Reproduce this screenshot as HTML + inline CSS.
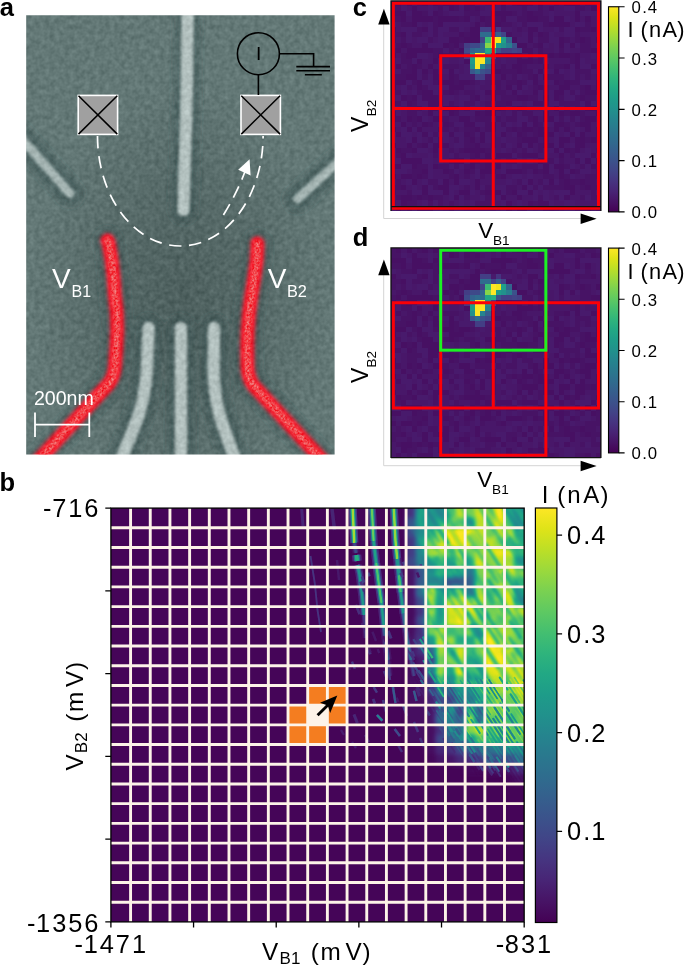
<!DOCTYPE html><html><head><meta charset="utf-8"><title>figure</title><style>html,body{margin:0;padding:0;background:#fff}svg{display:block}</style></head><body>
<svg width="685" height="966" viewBox="0 0 685 966">
<rect width="685" height="966" fill="#fff"/>
<defs>
<filter id="vir" filterUnits="userSpaceOnUse" x="105" y="500" width="425" height="428" color-interpolation-filters="sRGB"><feComponentTransfer><feFuncR type="table" tableValues="0.267 0.273 0.277 0.280 0.282 0.283 0.283 0.281 0.279 0.275 0.271 0.265 0.259 0.252 0.245 0.237 0.230 0.222 0.214 0.207 0.199 0.192 0.186 0.179 0.173 0.167 0.161 0.155 0.149 0.143 0.138 0.132 0.128 0.123 0.121 0.119 0.121 0.125 0.132 0.143 0.158 0.176 0.197 0.220 0.246 0.274 0.304 0.336 0.369 0.404 0.440 0.478 0.516 0.555 0.596 0.637 0.678 0.720 0.762 0.804 0.846 0.886 0.926 0.965 0.993"/><feFuncG type="table" tableValues="0.005 0.026 0.050 0.073 0.095 0.116 0.136 0.156 0.175 0.195 0.214 0.233 0.252 0.270 0.288 0.305 0.322 0.339 0.356 0.372 0.388 0.403 0.419 0.434 0.449 0.464 0.479 0.493 0.508 0.523 0.537 0.552 0.567 0.582 0.596 0.611 0.626 0.640 0.655 0.669 0.684 0.698 0.712 0.726 0.739 0.752 0.765 0.777 0.789 0.800 0.811 0.821 0.831 0.840 0.849 0.857 0.864 0.870 0.876 0.882 0.887 0.892 0.897 0.902 0.906"/><feFuncB type="table" tableValues="0.329 0.353 0.376 0.397 0.417 0.436 0.453 0.469 0.483 0.496 0.507 0.517 0.525 0.532 0.537 0.542 0.546 0.549 0.551 0.553 0.555 0.556 0.557 0.557 0.558 0.558 0.558 0.558 0.557 0.556 0.555 0.553 0.551 0.547 0.544 0.539 0.533 0.527 0.520 0.511 0.502 0.491 0.479 0.466 0.452 0.437 0.420 0.402 0.383 0.363 0.341 0.318 0.294 0.269 0.243 0.217 0.190 0.163 0.137 0.115 0.100 0.095 0.104 0.124 0.144"/></feComponentTransfer></filter>
<filter id="bl3" filterUnits="userSpaceOnUse" x="340" y="480" width="200" height="320" color-interpolation-filters="sRGB"><feGaussianBlur stdDeviation="2.2"/></filter>
<filter id="bl05" filterUnits="userSpaceOnUse" x="280" y="480" width="260" height="320" color-interpolation-filters="sRGB"><feGaussianBlur stdDeviation="0.75"/></filter>
<filter id="bl15" filterUnits="userSpaceOnUse" x="280" y="480" width="260" height="320" color-interpolation-filters="sRGB"><feGaussianBlur stdDeviation="1.5"/></filter>
<filter id="bl1" filterUnits="userSpaceOnUse" x="280" y="480" width="260" height="320" color-interpolation-filters="sRGB"><feGaussianBlur stdDeviation="0.8"/></filter>
<linearGradient id="cbB" x1="0" y1="0" x2="0" y2="1"><stop offset="0" stop-color="#fde725"/><stop offset="0.05" stop-color="#dfe318"/><stop offset="0.1" stop-color="#bddf26"/><stop offset="0.15" stop-color="#9bd93c"/><stop offset="0.2" stop-color="#7ad151"/><stop offset="0.25" stop-color="#5ec962"/><stop offset="0.3" stop-color="#44bf70"/><stop offset="0.35" stop-color="#2fb47c"/><stop offset="0.4" stop-color="#22a884"/><stop offset="0.45" stop-color="#1e9c89"/><stop offset="0.5" stop-color="#21918c"/><stop offset="0.55" stop-color="#25848e"/><stop offset="0.6" stop-color="#2a788e"/><stop offset="0.65" stop-color="#2f6c8e"/><stop offset="0.7" stop-color="#355f8d"/><stop offset="0.75" stop-color="#3b528b"/><stop offset="0.8" stop-color="#414487"/><stop offset="0.85" stop-color="#463480"/><stop offset="0.9" stop-color="#482475"/><stop offset="0.95" stop-color="#471365"/><stop offset="1" stop-color="#440154"/></linearGradient>
<linearGradient id="cbC" x1="0" y1="0" x2="0" y2="1"><stop offset="0" stop-color="#fde725"/><stop offset="0.05" stop-color="#dfe318"/><stop offset="0.1" stop-color="#bddf26"/><stop offset="0.15" stop-color="#9bd93c"/><stop offset="0.2" stop-color="#7ad151"/><stop offset="0.25" stop-color="#5ec962"/><stop offset="0.3" stop-color="#44bf70"/><stop offset="0.35" stop-color="#2fb47c"/><stop offset="0.4" stop-color="#22a884"/><stop offset="0.45" stop-color="#1e9c89"/><stop offset="0.5" stop-color="#21918c"/><stop offset="0.55" stop-color="#25848e"/><stop offset="0.6" stop-color="#2a788e"/><stop offset="0.65" stop-color="#2f6c8e"/><stop offset="0.7" stop-color="#355f8d"/><stop offset="0.75" stop-color="#3b528b"/><stop offset="0.8" stop-color="#414487"/><stop offset="0.85" stop-color="#463480"/><stop offset="0.9" stop-color="#482475"/><stop offset="0.95" stop-color="#471365"/><stop offset="1" stop-color="#440154"/></linearGradient>
</defs>
<defs>
<clipPath id="ca"><rect x="26.2" y="15.3" width="308.4" height="439.2"/></clipPath>
<filter id="na" filterUnits="userSpaceOnUse" x="20" y="10" width="320" height="450" color-interpolation-filters="sRGB"><feTurbulence type="fractalNoise" baseFrequency="0.2" numOctaves="2" seed="4" result="t"/><feColorMatrix in="t" type="matrix" values="1 0 0 0 0  1 0 0 0 0  1 0 0 0 0  0 0 0 0 1" result="g"/><feComposite in="SourceGraphic" in2="g" operator="arithmetic" k1="0" k2="1" k3="0.16" k4="-0.08"/></filter>
<filter id="rn" filterUnits="userSpaceOnUse" x="20" y="230" width="320" height="230" color-interpolation-filters="sRGB"><feTurbulence type="fractalNoise" baseFrequency="0.42" numOctaves="2" seed="9" result="t"/><feColorMatrix in="t" type="matrix" values="0 0 0 0 0.95  1.0 0 0 0 -0.18  0.9 0 0 0 -0.12  0 0 0 0 1" result="g"/><feGaussianBlur in="SourceAlpha" stdDeviation="1.2" result="sa"/><feComposite in="g" in2="sa" operator="in"/></filter>
<radialGradient id="dk" cx="181" cy="300" r="150" gradientUnits="userSpaceOnUse" gradientTransform="translate(181 300) scale(1 1.45) translate(-181 -300)"><stop offset="0" stop-color="#23302f" stop-opacity="0.34"/><stop offset="0.55" stop-color="#23302f" stop-opacity="0.17"/><stop offset="1" stop-color="#23302f" stop-opacity="0"/></radialGradient>
<filter id="ba1" filterUnits="userSpaceOnUse" x="0" y="0" width="360" height="470"><feGaussianBlur stdDeviation="1.6"/></filter>
<filter id="ba3" filterUnits="userSpaceOnUse" x="0" y="0" width="360" height="470"><feGaussianBlur stdDeviation="3.5"/></filter>
<filter id="ba0" filterUnits="userSpaceOnUse" x="0" y="0" width="360" height="470"><feGaussianBlur stdDeviation="1.1"/></filter>
</defs>
<defs>
<g id="hm" shape-rendering="crispEdges">
<rect x="0" y="0" width="210.4" height="210.4" fill="#471365"/>
<path d="M5.26 0h5.31v5.31h-5.31zM15.78 0h5.31v5.31h-5.31zM31.56 0h5.31v5.31h-5.31zM42.08 0h5.31v5.31h-5.31zM52.6 0h5.31v5.31h-5.31zM57.86 0h5.31v5.31h-5.31zM73.64 0h5.31v5.31h-5.31zM78.9 0h5.31v5.31h-5.31zM110.46 0h5.31v5.31h-5.31zM126.24 0h5.31v5.31h-5.31zM131.5 0h5.31v5.31h-5.31zM147.28 0h5.31v5.31h-5.31zM173.58 0h5.31v5.31h-5.31zM178.84 0h5.31v5.31h-5.31zM184.1 0h5.31v5.31h-5.31zM21.04 5.26h5.31v5.31h-5.31zM57.86 5.26h5.31v5.31h-5.31zM73.64 5.26h5.31v5.31h-5.31zM84.16 5.26h5.31v5.31h-5.31zM157.8 5.26h5.31v5.31h-5.31zM199.88 5.26h5.31v5.31h-5.31zM0 10.52h5.31v5.31h-5.31zM5.26 10.52h5.31v5.31h-5.31zM10.52 10.52h5.31v5.31h-5.31zM21.04 10.52h5.31v5.31h-5.31zM26.3 10.52h5.31v5.31h-5.31zM42.08 10.52h5.31v5.31h-5.31zM99.94 10.52h5.31v5.31h-5.31zM105.2 10.52h5.31v5.31h-5.31zM110.46 10.52h5.31v5.31h-5.31zM115.72 10.52h5.31v5.31h-5.31zM136.76 10.52h5.31v5.31h-5.31zM184.1 10.52h5.31v5.31h-5.31zM10.52 15.78h5.31v5.31h-5.31zM21.04 15.78h5.31v5.31h-5.31zM26.3 15.78h5.31v5.31h-5.31zM31.56 15.78h5.31v5.31h-5.31zM36.82 15.78h5.31v5.31h-5.31zM47.34 15.78h5.31v5.31h-5.31zM52.6 15.78h5.31v5.31h-5.31zM57.86 15.78h5.31v5.31h-5.31zM63.12 15.78h5.31v5.31h-5.31zM73.64 15.78h5.31v5.31h-5.31zM89.42 15.78h5.31v5.31h-5.31zM110.46 15.78h5.31v5.31h-5.31zM136.76 15.78h5.31v5.31h-5.31zM142.02 15.78h5.31v5.31h-5.31zM163.06 15.78h5.31v5.31h-5.31zM168.32 15.78h5.31v5.31h-5.31zM184.1 15.78h5.31v5.31h-5.31zM194.62 15.78h5.31v5.31h-5.31zM21.04 21.04h5.31v5.31h-5.31zM47.34 21.04h5.31v5.31h-5.31zM84.16 21.04h5.31v5.31h-5.31zM99.94 21.04h5.31v5.31h-5.31zM105.2 21.04h5.31v5.31h-5.31zM157.8 21.04h5.31v5.31h-5.31zM163.06 21.04h5.31v5.31h-5.31zM168.32 21.04h5.31v5.31h-5.31zM173.58 21.04h5.31v5.31h-5.31zM0 26.3h5.31v5.31h-5.31zM31.56 26.3h5.31v5.31h-5.31zM78.9 26.3h5.31v5.31h-5.31zM84.16 26.3h5.31v5.31h-5.31zM136.76 26.3h5.31v5.31h-5.31zM142.02 26.3h5.31v5.31h-5.31zM184.1 26.3h5.31v5.31h-5.31zM199.88 26.3h5.31v5.31h-5.31zM10.52 31.56h5.31v5.31h-5.31zM68.38 31.56h5.31v5.31h-5.31zM78.9 31.56h5.31v5.31h-5.31zM84.16 31.56h5.31v5.31h-5.31zM136.76 31.56h5.31v5.31h-5.31zM147.28 31.56h5.31v5.31h-5.31zM57.86 36.82h5.31v5.31h-5.31zM63.12 36.82h5.31v5.31h-5.31zM73.64 36.82h5.31v5.31h-5.31zM78.9 36.82h5.31v5.31h-5.31zM84.16 36.82h5.31v5.31h-5.31zM120.98 36.82h5.31v5.31h-5.31zM136.76 36.82h5.31v5.31h-5.31zM168.32 36.82h5.31v5.31h-5.31zM189.36 36.82h5.31v5.31h-5.31zM205.14 36.82h5.31v5.31h-5.31zM10.52 42.08h5.31v5.31h-5.31zM31.56 42.08h5.31v5.31h-5.31zM52.6 42.08h5.31v5.31h-5.31zM63.12 42.08h5.31v5.31h-5.31zM126.24 42.08h5.31v5.31h-5.31zM131.5 42.08h5.31v5.31h-5.31zM147.28 42.08h5.31v5.31h-5.31zM168.32 42.08h5.31v5.31h-5.31zM178.84 42.08h5.31v5.31h-5.31zM5.26 47.34h5.31v5.31h-5.31zM15.78 47.34h5.31v5.31h-5.31zM21.04 47.34h5.31v5.31h-5.31zM26.3 47.34h5.31v5.31h-5.31zM31.56 47.34h5.31v5.31h-5.31zM36.82 47.34h5.31v5.31h-5.31zM68.38 47.34h5.31v5.31h-5.31zM199.88 47.34h5.31v5.31h-5.31zM205.14 47.34h5.31v5.31h-5.31zM0 52.6h5.31v5.31h-5.31zM15.78 52.6h5.31v5.31h-5.31zM21.04 52.6h5.31v5.31h-5.31zM47.34 52.6h5.31v5.31h-5.31zM63.12 52.6h5.31v5.31h-5.31zM115.72 52.6h5.31v5.31h-5.31zM136.76 52.6h5.31v5.31h-5.31zM147.28 52.6h5.31v5.31h-5.31zM157.8 52.6h5.31v5.31h-5.31zM168.32 52.6h5.31v5.31h-5.31zM173.58 52.6h5.31v5.31h-5.31zM184.1 52.6h5.31v5.31h-5.31zM26.3 57.86h5.31v5.31h-5.31zM42.08 57.86h5.31v5.31h-5.31zM73.64 57.86h5.31v5.31h-5.31zM126.24 57.86h5.31v5.31h-5.31zM131.5 57.86h5.31v5.31h-5.31zM136.76 57.86h5.31v5.31h-5.31zM147.28 57.86h5.31v5.31h-5.31zM184.1 57.86h5.31v5.31h-5.31zM5.26 63.12h5.31v5.31h-5.31zM21.04 63.12h5.31v5.31h-5.31zM36.82 63.12h5.31v5.31h-5.31zM120.98 63.12h5.31v5.31h-5.31zM126.24 63.12h5.31v5.31h-5.31zM173.58 63.12h5.31v5.31h-5.31zM184.1 63.12h5.31v5.31h-5.31zM199.88 63.12h5.31v5.31h-5.31zM21.04 68.38h5.31v5.31h-5.31zM31.56 68.38h5.31v5.31h-5.31zM42.08 68.38h5.31v5.31h-5.31zM57.86 68.38h5.31v5.31h-5.31zM99.94 68.38h5.31v5.31h-5.31zM105.2 68.38h5.31v5.31h-5.31zM126.24 68.38h5.31v5.31h-5.31zM147.28 68.38h5.31v5.31h-5.31zM163.06 68.38h5.31v5.31h-5.31zM15.78 73.64h5.31v5.31h-5.31zM21.04 73.64h5.31v5.31h-5.31zM42.08 73.64h5.31v5.31h-5.31zM57.86 73.64h5.31v5.31h-5.31zM110.46 73.64h5.31v5.31h-5.31zM142.02 73.64h5.31v5.31h-5.31zM152.54 73.64h5.31v5.31h-5.31zM0 78.9h5.31v5.31h-5.31zM5.26 78.9h5.31v5.31h-5.31zM10.52 78.9h5.31v5.31h-5.31zM26.3 78.9h5.31v5.31h-5.31zM47.34 78.9h5.31v5.31h-5.31zM52.6 78.9h5.31v5.31h-5.31zM57.86 78.9h5.31v5.31h-5.31zM68.38 78.9h5.31v5.31h-5.31zM73.64 78.9h5.31v5.31h-5.31zM126.24 78.9h5.31v5.31h-5.31zM142.02 78.9h5.31v5.31h-5.31zM163.06 78.9h5.31v5.31h-5.31zM173.58 78.9h5.31v5.31h-5.31zM205.14 78.9h5.31v5.31h-5.31zM0 84.16h5.31v5.31h-5.31zM26.3 84.16h5.31v5.31h-5.31zM57.86 84.16h5.31v5.31h-5.31zM63.12 84.16h5.31v5.31h-5.31zM68.38 84.16h5.31v5.31h-5.31zM115.72 84.16h5.31v5.31h-5.31zM126.24 84.16h5.31v5.31h-5.31zM147.28 84.16h5.31v5.31h-5.31zM168.32 84.16h5.31v5.31h-5.31zM173.58 84.16h5.31v5.31h-5.31zM194.62 84.16h5.31v5.31h-5.31zM205.14 84.16h5.31v5.31h-5.31zM31.56 89.42h5.31v5.31h-5.31zM36.82 89.42h5.31v5.31h-5.31zM57.86 89.42h5.31v5.31h-5.31zM94.68 89.42h5.31v5.31h-5.31zM99.94 89.42h5.31v5.31h-5.31zM120.98 89.42h5.31v5.31h-5.31zM142.02 89.42h5.31v5.31h-5.31zM163.06 89.42h5.31v5.31h-5.31zM168.32 89.42h5.31v5.31h-5.31zM194.62 89.42h5.31v5.31h-5.31zM199.88 89.42h5.31v5.31h-5.31zM10.52 94.68h5.31v5.31h-5.31zM21.04 94.68h5.31v5.31h-5.31zM31.56 94.68h5.31v5.31h-5.31zM36.82 94.68h5.31v5.31h-5.31zM42.08 94.68h5.31v5.31h-5.31zM84.16 94.68h5.31v5.31h-5.31zM99.94 94.68h5.31v5.31h-5.31zM126.24 94.68h5.31v5.31h-5.31zM131.5 94.68h5.31v5.31h-5.31zM152.54 94.68h5.31v5.31h-5.31zM163.06 94.68h5.31v5.31h-5.31zM189.36 94.68h5.31v5.31h-5.31zM0 99.94h5.31v5.31h-5.31zM15.78 99.94h5.31v5.31h-5.31zM36.82 99.94h5.31v5.31h-5.31zM42.08 99.94h5.31v5.31h-5.31zM47.34 99.94h5.31v5.31h-5.31zM115.72 99.94h5.31v5.31h-5.31zM142.02 99.94h5.31v5.31h-5.31zM147.28 99.94h5.31v5.31h-5.31zM194.62 99.94h5.31v5.31h-5.31zM36.82 105.2h5.31v5.31h-5.31zM42.08 105.2h5.31v5.31h-5.31zM52.6 105.2h5.31v5.31h-5.31zM57.86 105.2h5.31v5.31h-5.31zM63.12 105.2h5.31v5.31h-5.31zM99.94 105.2h5.31v5.31h-5.31zM105.2 105.2h5.31v5.31h-5.31zM126.24 105.2h5.31v5.31h-5.31zM163.06 105.2h5.31v5.31h-5.31zM194.62 105.2h5.31v5.31h-5.31zM199.88 105.2h5.31v5.31h-5.31zM205.14 105.2h5.31v5.31h-5.31zM0 110.46h5.31v5.31h-5.31zM36.82 110.46h5.31v5.31h-5.31zM57.86 110.46h5.31v5.31h-5.31zM84.16 110.46h5.31v5.31h-5.31zM94.68 110.46h5.31v5.31h-5.31zM99.94 110.46h5.31v5.31h-5.31zM152.54 110.46h5.31v5.31h-5.31zM168.32 110.46h5.31v5.31h-5.31zM178.84 110.46h5.31v5.31h-5.31zM184.1 110.46h5.31v5.31h-5.31zM205.14 110.46h5.31v5.31h-5.31zM0 115.72h5.31v5.31h-5.31zM15.78 115.72h5.31v5.31h-5.31zM26.3 115.72h5.31v5.31h-5.31zM42.08 115.72h5.31v5.31h-5.31zM47.34 115.72h5.31v5.31h-5.31zM68.38 115.72h5.31v5.31h-5.31zM73.64 115.72h5.31v5.31h-5.31zM142.02 115.72h5.31v5.31h-5.31zM152.54 115.72h5.31v5.31h-5.31zM157.8 115.72h5.31v5.31h-5.31zM194.62 115.72h5.31v5.31h-5.31zM199.88 115.72h5.31v5.31h-5.31zM10.52 120.98h5.31v5.31h-5.31zM31.56 120.98h5.31v5.31h-5.31zM52.6 120.98h5.31v5.31h-5.31zM73.64 120.98h5.31v5.31h-5.31zM78.9 120.98h5.31v5.31h-5.31zM99.94 120.98h5.31v5.31h-5.31zM131.5 120.98h5.31v5.31h-5.31zM142.02 120.98h5.31v5.31h-5.31zM163.06 120.98h5.31v5.31h-5.31zM168.32 120.98h5.31v5.31h-5.31zM189.36 120.98h5.31v5.31h-5.31zM194.62 120.98h5.31v5.31h-5.31zM0 126.24h5.31v5.31h-5.31zM15.78 126.24h5.31v5.31h-5.31zM26.3 126.24h5.31v5.31h-5.31zM84.16 126.24h5.31v5.31h-5.31zM99.94 126.24h5.31v5.31h-5.31zM120.98 126.24h5.31v5.31h-5.31zM131.5 126.24h5.31v5.31h-5.31zM136.76 126.24h5.31v5.31h-5.31zM147.28 126.24h5.31v5.31h-5.31zM163.06 126.24h5.31v5.31h-5.31zM173.58 126.24h5.31v5.31h-5.31zM194.62 126.24h5.31v5.31h-5.31zM5.26 131.5h5.31v5.31h-5.31zM31.56 131.5h5.31v5.31h-5.31zM57.86 131.5h5.31v5.31h-5.31zM73.64 131.5h5.31v5.31h-5.31zM89.42 131.5h5.31v5.31h-5.31zM110.46 131.5h5.31v5.31h-5.31zM126.24 131.5h5.31v5.31h-5.31zM147.28 131.5h5.31v5.31h-5.31zM152.54 131.5h5.31v5.31h-5.31zM157.8 131.5h5.31v5.31h-5.31zM178.84 131.5h5.31v5.31h-5.31zM189.36 131.5h5.31v5.31h-5.31zM21.04 136.76h5.31v5.31h-5.31zM78.9 136.76h5.31v5.31h-5.31zM89.42 136.76h5.31v5.31h-5.31zM131.5 136.76h5.31v5.31h-5.31zM136.76 136.76h5.31v5.31h-5.31zM142.02 136.76h5.31v5.31h-5.31zM168.32 136.76h5.31v5.31h-5.31zM173.58 136.76h5.31v5.31h-5.31zM184.1 136.76h5.31v5.31h-5.31zM189.36 136.76h5.31v5.31h-5.31zM199.88 136.76h5.31v5.31h-5.31zM0 142.02h5.31v5.31h-5.31zM15.78 142.02h5.31v5.31h-5.31zM31.56 142.02h5.31v5.31h-5.31zM42.08 142.02h5.31v5.31h-5.31zM47.34 142.02h5.31v5.31h-5.31zM52.6 142.02h5.31v5.31h-5.31zM84.16 142.02h5.31v5.31h-5.31zM126.24 142.02h5.31v5.31h-5.31zM136.76 142.02h5.31v5.31h-5.31zM152.54 142.02h5.31v5.31h-5.31zM157.8 142.02h5.31v5.31h-5.31zM168.32 142.02h5.31v5.31h-5.31zM184.1 142.02h5.31v5.31h-5.31zM189.36 142.02h5.31v5.31h-5.31zM5.26 147.28h5.31v5.31h-5.31zM21.04 147.28h5.31v5.31h-5.31zM42.08 147.28h5.31v5.31h-5.31zM73.64 147.28h5.31v5.31h-5.31zM78.9 147.28h5.31v5.31h-5.31zM84.16 147.28h5.31v5.31h-5.31zM89.42 147.28h5.31v5.31h-5.31zM163.06 147.28h5.31v5.31h-5.31zM173.58 147.28h5.31v5.31h-5.31zM184.1 147.28h5.31v5.31h-5.31zM10.52 152.54h5.31v5.31h-5.31zM84.16 152.54h5.31v5.31h-5.31zM94.68 152.54h5.31v5.31h-5.31zM105.2 152.54h5.31v5.31h-5.31zM110.46 152.54h5.31v5.31h-5.31zM115.72 152.54h5.31v5.31h-5.31zM131.5 152.54h5.31v5.31h-5.31zM136.76 152.54h5.31v5.31h-5.31zM142.02 152.54h5.31v5.31h-5.31zM168.32 152.54h5.31v5.31h-5.31zM199.88 152.54h5.31v5.31h-5.31zM10.52 157.8h5.31v5.31h-5.31zM15.78 157.8h5.31v5.31h-5.31zM21.04 157.8h5.31v5.31h-5.31zM26.3 157.8h5.31v5.31h-5.31zM63.12 157.8h5.31v5.31h-5.31zM68.38 157.8h5.31v5.31h-5.31zM78.9 157.8h5.31v5.31h-5.31zM94.68 157.8h5.31v5.31h-5.31zM147.28 157.8h5.31v5.31h-5.31zM184.1 157.8h5.31v5.31h-5.31zM194.62 157.8h5.31v5.31h-5.31zM205.14 157.8h5.31v5.31h-5.31zM0 163.06h5.31v5.31h-5.31zM5.26 163.06h5.31v5.31h-5.31zM21.04 163.06h5.31v5.31h-5.31zM42.08 163.06h5.31v5.31h-5.31zM78.9 163.06h5.31v5.31h-5.31zM94.68 163.06h5.31v5.31h-5.31zM105.2 163.06h5.31v5.31h-5.31zM152.54 163.06h5.31v5.31h-5.31zM163.06 163.06h5.31v5.31h-5.31zM168.32 163.06h5.31v5.31h-5.31zM199.88 163.06h5.31v5.31h-5.31zM31.56 168.32h5.31v5.31h-5.31zM52.6 168.32h5.31v5.31h-5.31zM73.64 168.32h5.31v5.31h-5.31zM89.42 168.32h5.31v5.31h-5.31zM94.68 168.32h5.31v5.31h-5.31zM115.72 168.32h5.31v5.31h-5.31zM120.98 168.32h5.31v5.31h-5.31zM126.24 168.32h5.31v5.31h-5.31zM142.02 168.32h5.31v5.31h-5.31zM152.54 168.32h5.31v5.31h-5.31zM168.32 168.32h5.31v5.31h-5.31zM178.84 168.32h5.31v5.31h-5.31zM0 173.58h5.31v5.31h-5.31zM10.52 173.58h5.31v5.31h-5.31zM15.78 173.58h5.31v5.31h-5.31zM26.3 173.58h5.31v5.31h-5.31zM63.12 173.58h5.31v5.31h-5.31zM110.46 173.58h5.31v5.31h-5.31zM168.32 173.58h5.31v5.31h-5.31zM21.04 178.84h5.31v5.31h-5.31zM52.6 178.84h5.31v5.31h-5.31zM63.12 178.84h5.31v5.31h-5.31zM84.16 178.84h5.31v5.31h-5.31zM136.76 178.84h5.31v5.31h-5.31zM157.8 178.84h5.31v5.31h-5.31zM173.58 178.84h5.31v5.31h-5.31zM189.36 178.84h5.31v5.31h-5.31zM10.52 184.1h5.31v5.31h-5.31zM31.56 184.1h5.31v5.31h-5.31zM47.34 184.1h5.31v5.31h-5.31zM52.6 184.1h5.31v5.31h-5.31zM84.16 184.1h5.31v5.31h-5.31zM131.5 184.1h5.31v5.31h-5.31zM173.58 184.1h5.31v5.31h-5.31zM178.84 184.1h5.31v5.31h-5.31zM194.62 184.1h5.31v5.31h-5.31zM31.56 189.36h5.31v5.31h-5.31zM52.6 189.36h5.31v5.31h-5.31zM68.38 189.36h5.31v5.31h-5.31zM73.64 189.36h5.31v5.31h-5.31zM94.68 189.36h5.31v5.31h-5.31zM99.94 189.36h5.31v5.31h-5.31zM105.2 189.36h5.31v5.31h-5.31zM120.98 189.36h5.31v5.31h-5.31zM136.76 189.36h5.31v5.31h-5.31zM178.84 189.36h5.31v5.31h-5.31zM10.52 194.62h5.31v5.31h-5.31zM15.78 194.62h5.31v5.31h-5.31zM26.3 194.62h5.31v5.31h-5.31zM36.82 194.62h5.31v5.31h-5.31zM63.12 194.62h5.31v5.31h-5.31zM110.46 194.62h5.31v5.31h-5.31zM126.24 194.62h5.31v5.31h-5.31zM173.58 194.62h5.31v5.31h-5.31zM10.52 199.88h5.31v5.31h-5.31zM115.72 199.88h5.31v5.31h-5.31zM136.76 199.88h5.31v5.31h-5.31zM147.28 199.88h5.31v5.31h-5.31zM152.54 199.88h5.31v5.31h-5.31zM5.26 205.14h5.31v5.31h-5.31zM26.3 205.14h5.31v5.31h-5.31zM31.56 205.14h5.31v5.31h-5.31zM36.82 205.14h5.31v5.31h-5.31zM115.72 205.14h5.31v5.31h-5.31zM126.24 205.14h5.31v5.31h-5.31zM131.5 205.14h5.31v5.31h-5.31zM157.8 205.14h5.31v5.31h-5.31zM194.62 205.14h5.31v5.31h-5.31zM205.14 205.14h5.31v5.31h-5.31z" fill="#471063"/>
<path d="M10.52 0h5.31v5.31h-5.31zM21.04 0h5.31v5.31h-5.31zM36.82 0h5.31v5.31h-5.31zM84.16 0h5.31v5.31h-5.31zM94.68 0h5.31v5.31h-5.31zM152.54 0h5.31v5.31h-5.31zM157.8 0h5.31v5.31h-5.31zM168.32 0h5.31v5.31h-5.31zM189.36 0h5.31v5.31h-5.31zM205.14 0h5.31v5.31h-5.31zM15.78 5.26h5.31v5.31h-5.31zM26.3 5.26h5.31v5.31h-5.31zM31.56 5.26h5.31v5.31h-5.31zM42.08 5.26h5.31v5.31h-5.31zM89.42 5.26h5.31v5.31h-5.31zM99.94 5.26h5.31v5.31h-5.31zM115.72 5.26h5.31v5.31h-5.31zM120.98 5.26h5.31v5.31h-5.31zM126.24 5.26h5.31v5.31h-5.31zM152.54 5.26h5.31v5.31h-5.31zM163.06 5.26h5.31v5.31h-5.31zM168.32 5.26h5.31v5.31h-5.31zM194.62 5.26h5.31v5.31h-5.31zM52.6 10.52h5.31v5.31h-5.31zM126.24 10.52h5.31v5.31h-5.31zM152.54 10.52h5.31v5.31h-5.31zM163.06 10.52h5.31v5.31h-5.31zM168.32 10.52h5.31v5.31h-5.31zM173.58 10.52h5.31v5.31h-5.31zM178.84 10.52h5.31v5.31h-5.31zM15.78 15.78h5.31v5.31h-5.31zM84.16 15.78h5.31v5.31h-5.31zM178.84 15.78h5.31v5.31h-5.31zM189.36 15.78h5.31v5.31h-5.31zM199.88 15.78h5.31v5.31h-5.31zM5.26 21.04h5.31v5.31h-5.31zM31.56 21.04h5.31v5.31h-5.31zM78.9 21.04h5.31v5.31h-5.31zM89.42 21.04h5.31v5.31h-5.31zM120.98 21.04h5.31v5.31h-5.31zM178.84 21.04h5.31v5.31h-5.31zM199.88 21.04h5.31v5.31h-5.31zM5.26 26.3h5.31v5.31h-5.31zM73.64 26.3h5.31v5.31h-5.31zM120.98 26.3h5.31v5.31h-5.31zM131.5 26.3h5.31v5.31h-5.31zM152.54 26.3h5.31v5.31h-5.31zM157.8 26.3h5.31v5.31h-5.31zM205.14 26.3h5.31v5.31h-5.31zM31.56 31.56h5.31v5.31h-5.31zM52.6 31.56h5.31v5.31h-5.31zM57.86 31.56h5.31v5.31h-5.31zM63.12 31.56h5.31v5.31h-5.31zM120.98 31.56h5.31v5.31h-5.31zM126.24 31.56h5.31v5.31h-5.31zM142.02 31.56h5.31v5.31h-5.31zM163.06 31.56h5.31v5.31h-5.31zM168.32 31.56h5.31v5.31h-5.31zM189.36 31.56h5.31v5.31h-5.31zM194.62 31.56h5.31v5.31h-5.31zM199.88 31.56h5.31v5.31h-5.31zM205.14 31.56h5.31v5.31h-5.31zM5.26 36.82h5.31v5.31h-5.31zM21.04 36.82h5.31v5.31h-5.31zM42.08 36.82h5.31v5.31h-5.31zM178.84 36.82h5.31v5.31h-5.31zM199.88 36.82h5.31v5.31h-5.31zM0 42.08h5.31v5.31h-5.31zM21.04 42.08h5.31v5.31h-5.31zM26.3 42.08h5.31v5.31h-5.31zM136.76 42.08h5.31v5.31h-5.31zM157.8 42.08h5.31v5.31h-5.31zM199.88 42.08h5.31v5.31h-5.31zM10.52 47.34h5.31v5.31h-5.31zM63.12 47.34h5.31v5.31h-5.31zM152.54 47.34h5.31v5.31h-5.31zM157.8 47.34h5.31v5.31h-5.31zM178.84 47.34h5.31v5.31h-5.31zM184.1 47.34h5.31v5.31h-5.31zM5.26 52.6h5.31v5.31h-5.31zM36.82 52.6h5.31v5.31h-5.31zM131.5 52.6h5.31v5.31h-5.31zM142.02 52.6h5.31v5.31h-5.31zM189.36 52.6h5.31v5.31h-5.31zM194.62 52.6h5.31v5.31h-5.31zM205.14 52.6h5.31v5.31h-5.31zM0 57.86h5.31v5.31h-5.31zM31.56 57.86h5.31v5.31h-5.31zM36.82 57.86h5.31v5.31h-5.31zM57.86 57.86h5.31v5.31h-5.31zM63.12 57.86h5.31v5.31h-5.31zM105.2 57.86h5.31v5.31h-5.31zM115.72 57.86h5.31v5.31h-5.31zM120.98 57.86h5.31v5.31h-5.31zM157.8 57.86h5.31v5.31h-5.31zM163.06 57.86h5.31v5.31h-5.31zM168.32 57.86h5.31v5.31h-5.31zM173.58 57.86h5.31v5.31h-5.31zM194.62 57.86h5.31v5.31h-5.31zM199.88 57.86h5.31v5.31h-5.31zM205.14 57.86h5.31v5.31h-5.31zM0 63.12h5.31v5.31h-5.31zM10.52 63.12h5.31v5.31h-5.31zM31.56 63.12h5.31v5.31h-5.31zM42.08 63.12h5.31v5.31h-5.31zM68.38 63.12h5.31v5.31h-5.31zM105.2 63.12h5.31v5.31h-5.31zM115.72 63.12h5.31v5.31h-5.31zM136.76 63.12h5.31v5.31h-5.31zM142.02 63.12h5.31v5.31h-5.31zM147.28 63.12h5.31v5.31h-5.31zM157.8 63.12h5.31v5.31h-5.31zM36.82 68.38h5.31v5.31h-5.31zM47.34 68.38h5.31v5.31h-5.31zM68.38 68.38h5.31v5.31h-5.31zM173.58 68.38h5.31v5.31h-5.31zM205.14 68.38h5.31v5.31h-5.31zM52.6 73.64h5.31v5.31h-5.31zM99.94 73.64h5.31v5.31h-5.31zM105.2 73.64h5.31v5.31h-5.31zM115.72 73.64h5.31v5.31h-5.31zM131.5 73.64h5.31v5.31h-5.31zM173.58 73.64h5.31v5.31h-5.31zM189.36 73.64h5.31v5.31h-5.31zM199.88 73.64h5.31v5.31h-5.31zM84.16 78.9h5.31v5.31h-5.31zM94.68 78.9h5.31v5.31h-5.31zM110.46 78.9h5.31v5.31h-5.31zM147.28 78.9h5.31v5.31h-5.31zM152.54 78.9h5.31v5.31h-5.31zM5.26 84.16h5.31v5.31h-5.31zM21.04 84.16h5.31v5.31h-5.31zM73.64 84.16h5.31v5.31h-5.31zM78.9 84.16h5.31v5.31h-5.31zM89.42 84.16h5.31v5.31h-5.31zM94.68 84.16h5.31v5.31h-5.31zM110.46 84.16h5.31v5.31h-5.31zM136.76 84.16h5.31v5.31h-5.31zM157.8 84.16h5.31v5.31h-5.31zM163.06 84.16h5.31v5.31h-5.31zM178.84 84.16h5.31v5.31h-5.31zM184.1 84.16h5.31v5.31h-5.31zM199.88 84.16h5.31v5.31h-5.31zM15.78 89.42h5.31v5.31h-5.31zM47.34 89.42h5.31v5.31h-5.31zM68.38 89.42h5.31v5.31h-5.31zM84.16 89.42h5.31v5.31h-5.31zM115.72 89.42h5.31v5.31h-5.31zM131.5 89.42h5.31v5.31h-5.31zM136.76 89.42h5.31v5.31h-5.31zM0 94.68h5.31v5.31h-5.31zM63.12 94.68h5.31v5.31h-5.31zM94.68 94.68h5.31v5.31h-5.31zM105.2 94.68h5.31v5.31h-5.31zM63.12 99.94h5.31v5.31h-5.31zM89.42 99.94h5.31v5.31h-5.31zM99.94 99.94h5.31v5.31h-5.31zM131.5 99.94h5.31v5.31h-5.31zM205.14 99.94h5.31v5.31h-5.31zM10.52 105.2h5.31v5.31h-5.31zM68.38 105.2h5.31v5.31h-5.31zM115.72 105.2h5.31v5.31h-5.31zM136.76 105.2h5.31v5.31h-5.31zM142.02 105.2h5.31v5.31h-5.31zM147.28 105.2h5.31v5.31h-5.31zM157.8 105.2h5.31v5.31h-5.31zM178.84 105.2h5.31v5.31h-5.31zM189.36 105.2h5.31v5.31h-5.31zM10.52 110.46h5.31v5.31h-5.31zM31.56 110.46h5.31v5.31h-5.31zM47.34 110.46h5.31v5.31h-5.31zM110.46 110.46h5.31v5.31h-5.31zM157.8 110.46h5.31v5.31h-5.31zM163.06 110.46h5.31v5.31h-5.31zM194.62 110.46h5.31v5.31h-5.31zM199.88 110.46h5.31v5.31h-5.31zM10.52 115.72h5.31v5.31h-5.31zM36.82 115.72h5.31v5.31h-5.31zM57.86 115.72h5.31v5.31h-5.31zM63.12 115.72h5.31v5.31h-5.31zM78.9 115.72h5.31v5.31h-5.31zM110.46 115.72h5.31v5.31h-5.31zM147.28 115.72h5.31v5.31h-5.31zM205.14 115.72h5.31v5.31h-5.31zM0 120.98h5.31v5.31h-5.31zM15.78 120.98h5.31v5.31h-5.31zM26.3 120.98h5.31v5.31h-5.31zM42.08 120.98h5.31v5.31h-5.31zM120.98 120.98h5.31v5.31h-5.31zM178.84 120.98h5.31v5.31h-5.31zM199.88 120.98h5.31v5.31h-5.31zM5.26 126.24h5.31v5.31h-5.31zM31.56 126.24h5.31v5.31h-5.31zM36.82 126.24h5.31v5.31h-5.31zM42.08 126.24h5.31v5.31h-5.31zM57.86 126.24h5.31v5.31h-5.31zM68.38 126.24h5.31v5.31h-5.31zM89.42 126.24h5.31v5.31h-5.31zM157.8 126.24h5.31v5.31h-5.31zM168.32 126.24h5.31v5.31h-5.31zM178.84 126.24h5.31v5.31h-5.31zM189.36 126.24h5.31v5.31h-5.31zM199.88 126.24h5.31v5.31h-5.31zM21.04 131.5h5.31v5.31h-5.31zM115.72 131.5h5.31v5.31h-5.31zM136.76 131.5h5.31v5.31h-5.31zM168.32 131.5h5.31v5.31h-5.31zM194.62 131.5h5.31v5.31h-5.31zM199.88 131.5h5.31v5.31h-5.31zM5.26 136.76h5.31v5.31h-5.31zM10.52 136.76h5.31v5.31h-5.31zM31.56 136.76h5.31v5.31h-5.31zM57.86 136.76h5.31v5.31h-5.31zM84.16 136.76h5.31v5.31h-5.31zM105.2 136.76h5.31v5.31h-5.31zM115.72 136.76h5.31v5.31h-5.31zM120.98 136.76h5.31v5.31h-5.31zM147.28 136.76h5.31v5.31h-5.31zM157.8 136.76h5.31v5.31h-5.31zM178.84 136.76h5.31v5.31h-5.31zM5.26 142.02h5.31v5.31h-5.31zM10.52 142.02h5.31v5.31h-5.31zM21.04 142.02h5.31v5.31h-5.31zM57.86 142.02h5.31v5.31h-5.31zM89.42 142.02h5.31v5.31h-5.31zM94.68 142.02h5.31v5.31h-5.31zM105.2 142.02h5.31v5.31h-5.31zM120.98 142.02h5.31v5.31h-5.31zM142.02 142.02h5.31v5.31h-5.31zM173.58 142.02h5.31v5.31h-5.31zM194.62 142.02h5.31v5.31h-5.31zM199.88 142.02h5.31v5.31h-5.31zM205.14 142.02h5.31v5.31h-5.31zM36.82 147.28h5.31v5.31h-5.31zM52.6 147.28h5.31v5.31h-5.31zM63.12 147.28h5.31v5.31h-5.31zM99.94 147.28h5.31v5.31h-5.31zM105.2 147.28h5.31v5.31h-5.31zM115.72 147.28h5.31v5.31h-5.31zM126.24 147.28h5.31v5.31h-5.31zM142.02 147.28h5.31v5.31h-5.31zM152.54 147.28h5.31v5.31h-5.31zM189.36 147.28h5.31v5.31h-5.31zM199.88 147.28h5.31v5.31h-5.31zM21.04 152.54h5.31v5.31h-5.31zM26.3 152.54h5.31v5.31h-5.31zM31.56 152.54h5.31v5.31h-5.31zM52.6 152.54h5.31v5.31h-5.31zM68.38 152.54h5.31v5.31h-5.31zM73.64 152.54h5.31v5.31h-5.31zM89.42 152.54h5.31v5.31h-5.31zM147.28 152.54h5.31v5.31h-5.31zM152.54 152.54h5.31v5.31h-5.31zM157.8 152.54h5.31v5.31h-5.31zM163.06 152.54h5.31v5.31h-5.31zM173.58 152.54h5.31v5.31h-5.31zM42.08 157.8h5.31v5.31h-5.31zM52.6 157.8h5.31v5.31h-5.31zM110.46 157.8h5.31v5.31h-5.31zM131.5 157.8h5.31v5.31h-5.31zM142.02 157.8h5.31v5.31h-5.31zM173.58 157.8h5.31v5.31h-5.31zM178.84 157.8h5.31v5.31h-5.31zM84.16 163.06h5.31v5.31h-5.31zM99.94 163.06h5.31v5.31h-5.31zM115.72 163.06h5.31v5.31h-5.31zM126.24 163.06h5.31v5.31h-5.31zM184.1 163.06h5.31v5.31h-5.31zM0 168.32h5.31v5.31h-5.31zM15.78 168.32h5.31v5.31h-5.31zM42.08 168.32h5.31v5.31h-5.31zM47.34 168.32h5.31v5.31h-5.31zM68.38 168.32h5.31v5.31h-5.31zM105.2 168.32h5.31v5.31h-5.31zM136.76 168.32h5.31v5.31h-5.31zM163.06 168.32h5.31v5.31h-5.31zM199.88 168.32h5.31v5.31h-5.31zM5.26 173.58h5.31v5.31h-5.31zM42.08 173.58h5.31v5.31h-5.31zM47.34 173.58h5.31v5.31h-5.31zM52.6 173.58h5.31v5.31h-5.31zM68.38 173.58h5.31v5.31h-5.31zM78.9 173.58h5.31v5.31h-5.31zM94.68 173.58h5.31v5.31h-5.31zM99.94 173.58h5.31v5.31h-5.31zM115.72 173.58h5.31v5.31h-5.31zM131.5 173.58h5.31v5.31h-5.31zM142.02 173.58h5.31v5.31h-5.31zM147.28 173.58h5.31v5.31h-5.31zM163.06 173.58h5.31v5.31h-5.31zM184.1 173.58h5.31v5.31h-5.31zM189.36 173.58h5.31v5.31h-5.31zM0 178.84h5.31v5.31h-5.31zM10.52 178.84h5.31v5.31h-5.31zM26.3 178.84h5.31v5.31h-5.31zM57.86 178.84h5.31v5.31h-5.31zM78.9 178.84h5.31v5.31h-5.31zM89.42 178.84h5.31v5.31h-5.31zM94.68 178.84h5.31v5.31h-5.31zM99.94 178.84h5.31v5.31h-5.31zM105.2 178.84h5.31v5.31h-5.31zM110.46 178.84h5.31v5.31h-5.31zM120.98 178.84h5.31v5.31h-5.31zM142.02 178.84h5.31v5.31h-5.31zM205.14 178.84h5.31v5.31h-5.31zM15.78 184.1h5.31v5.31h-5.31zM26.3 184.1h5.31v5.31h-5.31zM68.38 184.1h5.31v5.31h-5.31zM78.9 184.1h5.31v5.31h-5.31zM99.94 184.1h5.31v5.31h-5.31zM126.24 184.1h5.31v5.31h-5.31zM184.1 184.1h5.31v5.31h-5.31zM5.26 189.36h5.31v5.31h-5.31zM10.52 189.36h5.31v5.31h-5.31zM63.12 189.36h5.31v5.31h-5.31zM84.16 189.36h5.31v5.31h-5.31zM147.28 189.36h5.31v5.31h-5.31zM157.8 189.36h5.31v5.31h-5.31zM184.1 189.36h5.31v5.31h-5.31zM189.36 189.36h5.31v5.31h-5.31zM194.62 189.36h5.31v5.31h-5.31zM0 194.62h5.31v5.31h-5.31zM52.6 194.62h5.31v5.31h-5.31zM78.9 194.62h5.31v5.31h-5.31zM84.16 194.62h5.31v5.31h-5.31zM115.72 194.62h5.31v5.31h-5.31zM120.98 194.62h5.31v5.31h-5.31zM131.5 194.62h5.31v5.31h-5.31zM136.76 194.62h5.31v5.31h-5.31zM157.8 194.62h5.31v5.31h-5.31zM178.84 194.62h5.31v5.31h-5.31zM184.1 194.62h5.31v5.31h-5.31zM0 199.88h5.31v5.31h-5.31zM26.3 199.88h5.31v5.31h-5.31zM52.6 199.88h5.31v5.31h-5.31zM63.12 199.88h5.31v5.31h-5.31zM73.64 199.88h5.31v5.31h-5.31zM99.94 199.88h5.31v5.31h-5.31zM105.2 199.88h5.31v5.31h-5.31zM120.98 199.88h5.31v5.31h-5.31zM131.5 199.88h5.31v5.31h-5.31zM163.06 199.88h5.31v5.31h-5.31zM168.32 199.88h5.31v5.31h-5.31zM184.1 199.88h5.31v5.31h-5.31zM189.36 199.88h5.31v5.31h-5.31zM194.62 199.88h5.31v5.31h-5.31zM199.88 199.88h5.31v5.31h-5.31zM205.14 199.88h5.31v5.31h-5.31zM0 205.14h5.31v5.31h-5.31zM10.52 205.14h5.31v5.31h-5.31zM52.6 205.14h5.31v5.31h-5.31zM73.64 205.14h5.31v5.31h-5.31zM105.2 205.14h5.31v5.31h-5.31zM120.98 205.14h5.31v5.31h-5.31zM142.02 205.14h5.31v5.31h-5.31zM168.32 205.14h5.31v5.31h-5.31zM199.88 205.14h5.31v5.31h-5.31z" fill="#481769"/>
<path d="M68.38 0h5.31v5.31h-5.31zM89.42 0h5.31v5.31h-5.31zM105.2 0h5.31v5.31h-5.31zM115.72 0h5.31v5.31h-5.31zM142.02 0h5.31v5.31h-5.31zM10.52 5.26h5.31v5.31h-5.31zM36.82 5.26h5.31v5.31h-5.31zM52.6 5.26h5.31v5.31h-5.31zM68.38 5.26h5.31v5.31h-5.31zM94.68 5.26h5.31v5.31h-5.31zM105.2 5.26h5.31v5.31h-5.31zM136.76 5.26h5.31v5.31h-5.31zM142.02 5.26h5.31v5.31h-5.31zM173.58 5.26h5.31v5.31h-5.31zM178.84 5.26h5.31v5.31h-5.31zM15.78 10.52h5.31v5.31h-5.31zM36.82 10.52h5.31v5.31h-5.31zM57.86 10.52h5.31v5.31h-5.31zM63.12 10.52h5.31v5.31h-5.31zM68.38 10.52h5.31v5.31h-5.31zM89.42 10.52h5.31v5.31h-5.31zM94.68 10.52h5.31v5.31h-5.31zM157.8 10.52h5.31v5.31h-5.31zM189.36 10.52h5.31v5.31h-5.31zM194.62 10.52h5.31v5.31h-5.31zM199.88 10.52h5.31v5.31h-5.31zM205.14 10.52h5.31v5.31h-5.31zM78.9 15.78h5.31v5.31h-5.31zM115.72 15.78h5.31v5.31h-5.31zM120.98 15.78h5.31v5.31h-5.31zM157.8 15.78h5.31v5.31h-5.31zM173.58 15.78h5.31v5.31h-5.31zM205.14 15.78h5.31v5.31h-5.31zM0 21.04h5.31v5.31h-5.31zM26.3 21.04h5.31v5.31h-5.31zM36.82 21.04h5.31v5.31h-5.31zM52.6 21.04h5.31v5.31h-5.31zM57.86 21.04h5.31v5.31h-5.31zM63.12 21.04h5.31v5.31h-5.31zM68.38 21.04h5.31v5.31h-5.31zM73.64 21.04h5.31v5.31h-5.31zM126.24 21.04h5.31v5.31h-5.31zM136.76 21.04h5.31v5.31h-5.31zM142.02 21.04h5.31v5.31h-5.31zM147.28 21.04h5.31v5.31h-5.31zM184.1 21.04h5.31v5.31h-5.31zM189.36 21.04h5.31v5.31h-5.31zM205.14 21.04h5.31v5.31h-5.31zM10.52 26.3h5.31v5.31h-5.31zM15.78 26.3h5.31v5.31h-5.31zM21.04 26.3h5.31v5.31h-5.31zM36.82 26.3h5.31v5.31h-5.31zM47.34 26.3h5.31v5.31h-5.31zM52.6 26.3h5.31v5.31h-5.31zM68.38 26.3h5.31v5.31h-5.31zM99.94 26.3h5.31v5.31h-5.31zM110.46 26.3h5.31v5.31h-5.31zM115.72 26.3h5.31v5.31h-5.31zM147.28 26.3h5.31v5.31h-5.31zM163.06 26.3h5.31v5.31h-5.31zM173.58 26.3h5.31v5.31h-5.31zM178.84 26.3h5.31v5.31h-5.31zM15.78 31.56h5.31v5.31h-5.31zM36.82 31.56h5.31v5.31h-5.31zM47.34 31.56h5.31v5.31h-5.31zM131.5 31.56h5.31v5.31h-5.31zM157.8 31.56h5.31v5.31h-5.31zM173.58 31.56h5.31v5.31h-5.31zM178.84 31.56h5.31v5.31h-5.31zM15.78 36.82h5.31v5.31h-5.31zM26.3 36.82h5.31v5.31h-5.31zM31.56 36.82h5.31v5.31h-5.31zM47.34 36.82h5.31v5.31h-5.31zM52.6 36.82h5.31v5.31h-5.31zM126.24 36.82h5.31v5.31h-5.31zM131.5 36.82h5.31v5.31h-5.31zM142.02 36.82h5.31v5.31h-5.31zM157.8 36.82h5.31v5.31h-5.31zM163.06 36.82h5.31v5.31h-5.31zM36.82 42.08h5.31v5.31h-5.31zM42.08 42.08h5.31v5.31h-5.31zM47.34 42.08h5.31v5.31h-5.31zM68.38 42.08h5.31v5.31h-5.31zM152.54 42.08h5.31v5.31h-5.31zM163.06 42.08h5.31v5.31h-5.31zM173.58 42.08h5.31v5.31h-5.31zM184.1 42.08h5.31v5.31h-5.31zM205.14 42.08h5.31v5.31h-5.31zM52.6 47.34h5.31v5.31h-5.31zM142.02 47.34h5.31v5.31h-5.31zM163.06 47.34h5.31v5.31h-5.31zM173.58 47.34h5.31v5.31h-5.31zM26.3 52.6h5.31v5.31h-5.31zM31.56 52.6h5.31v5.31h-5.31zM199.88 52.6h5.31v5.31h-5.31zM5.26 57.86h5.31v5.31h-5.31zM21.04 57.86h5.31v5.31h-5.31zM47.34 57.86h5.31v5.31h-5.31zM52.6 57.86h5.31v5.31h-5.31zM68.38 57.86h5.31v5.31h-5.31zM99.94 57.86h5.31v5.31h-5.31zM110.46 57.86h5.31v5.31h-5.31zM152.54 57.86h5.31v5.31h-5.31zM189.36 57.86h5.31v5.31h-5.31zM47.34 63.12h5.31v5.31h-5.31zM73.64 63.12h5.31v5.31h-5.31zM178.84 63.12h5.31v5.31h-5.31zM189.36 63.12h5.31v5.31h-5.31zM194.62 63.12h5.31v5.31h-5.31zM0 68.38h5.31v5.31h-5.31zM5.26 68.38h5.31v5.31h-5.31zM26.3 68.38h5.31v5.31h-5.31zM52.6 68.38h5.31v5.31h-5.31zM63.12 68.38h5.31v5.31h-5.31zM73.64 68.38h5.31v5.31h-5.31zM142.02 68.38h5.31v5.31h-5.31zM152.54 68.38h5.31v5.31h-5.31zM157.8 68.38h5.31v5.31h-5.31zM168.32 68.38h5.31v5.31h-5.31zM178.84 68.38h5.31v5.31h-5.31zM199.88 68.38h5.31v5.31h-5.31zM26.3 73.64h5.31v5.31h-5.31zM36.82 73.64h5.31v5.31h-5.31zM68.38 73.64h5.31v5.31h-5.31zM73.64 73.64h5.31v5.31h-5.31zM78.9 73.64h5.31v5.31h-5.31zM94.68 73.64h5.31v5.31h-5.31zM126.24 73.64h5.31v5.31h-5.31zM147.28 73.64h5.31v5.31h-5.31zM178.84 73.64h5.31v5.31h-5.31zM15.78 78.9h5.31v5.31h-5.31zM31.56 78.9h5.31v5.31h-5.31zM36.82 78.9h5.31v5.31h-5.31zM89.42 78.9h5.31v5.31h-5.31zM136.76 78.9h5.31v5.31h-5.31zM157.8 78.9h5.31v5.31h-5.31zM189.36 78.9h5.31v5.31h-5.31zM194.62 78.9h5.31v5.31h-5.31zM199.88 78.9h5.31v5.31h-5.31zM10.52 84.16h5.31v5.31h-5.31zM36.82 84.16h5.31v5.31h-5.31zM42.08 84.16h5.31v5.31h-5.31zM47.34 84.16h5.31v5.31h-5.31zM52.6 84.16h5.31v5.31h-5.31zM84.16 84.16h5.31v5.31h-5.31zM99.94 84.16h5.31v5.31h-5.31zM120.98 84.16h5.31v5.31h-5.31zM131.5 84.16h5.31v5.31h-5.31zM10.52 89.42h5.31v5.31h-5.31zM21.04 89.42h5.31v5.31h-5.31zM42.08 89.42h5.31v5.31h-5.31zM89.42 89.42h5.31v5.31h-5.31zM126.24 89.42h5.31v5.31h-5.31zM147.28 89.42h5.31v5.31h-5.31zM157.8 89.42h5.31v5.31h-5.31zM173.58 89.42h5.31v5.31h-5.31zM184.1 89.42h5.31v5.31h-5.31zM5.26 94.68h5.31v5.31h-5.31zM26.3 94.68h5.31v5.31h-5.31zM52.6 94.68h5.31v5.31h-5.31zM57.86 94.68h5.31v5.31h-5.31zM68.38 94.68h5.31v5.31h-5.31zM73.64 94.68h5.31v5.31h-5.31zM89.42 94.68h5.31v5.31h-5.31zM147.28 94.68h5.31v5.31h-5.31zM157.8 94.68h5.31v5.31h-5.31zM173.58 94.68h5.31v5.31h-5.31zM178.84 94.68h5.31v5.31h-5.31zM205.14 94.68h5.31v5.31h-5.31zM10.52 99.94h5.31v5.31h-5.31zM26.3 99.94h5.31v5.31h-5.31zM31.56 99.94h5.31v5.31h-5.31zM52.6 99.94h5.31v5.31h-5.31zM68.38 99.94h5.31v5.31h-5.31zM84.16 99.94h5.31v5.31h-5.31zM120.98 99.94h5.31v5.31h-5.31zM126.24 99.94h5.31v5.31h-5.31zM136.76 99.94h5.31v5.31h-5.31zM157.8 99.94h5.31v5.31h-5.31zM163.06 99.94h5.31v5.31h-5.31zM189.36 99.94h5.31v5.31h-5.31zM199.88 99.94h5.31v5.31h-5.31zM0 105.2h5.31v5.31h-5.31zM5.26 105.2h5.31v5.31h-5.31zM31.56 105.2h5.31v5.31h-5.31zM47.34 105.2h5.31v5.31h-5.31zM78.9 105.2h5.31v5.31h-5.31zM84.16 105.2h5.31v5.31h-5.31zM89.42 105.2h5.31v5.31h-5.31zM152.54 105.2h5.31v5.31h-5.31zM168.32 105.2h5.31v5.31h-5.31zM5.26 110.46h5.31v5.31h-5.31zM26.3 110.46h5.31v5.31h-5.31zM42.08 110.46h5.31v5.31h-5.31zM52.6 110.46h5.31v5.31h-5.31zM68.38 110.46h5.31v5.31h-5.31zM73.64 110.46h5.31v5.31h-5.31zM78.9 110.46h5.31v5.31h-5.31zM105.2 110.46h5.31v5.31h-5.31zM115.72 110.46h5.31v5.31h-5.31zM126.24 110.46h5.31v5.31h-5.31zM142.02 110.46h5.31v5.31h-5.31zM147.28 110.46h5.31v5.31h-5.31zM31.56 115.72h5.31v5.31h-5.31zM99.94 115.72h5.31v5.31h-5.31zM126.24 115.72h5.31v5.31h-5.31zM131.5 115.72h5.31v5.31h-5.31zM163.06 115.72h5.31v5.31h-5.31zM173.58 115.72h5.31v5.31h-5.31zM184.1 115.72h5.31v5.31h-5.31zM5.26 120.98h5.31v5.31h-5.31zM47.34 120.98h5.31v5.31h-5.31zM63.12 120.98h5.31v5.31h-5.31zM68.38 120.98h5.31v5.31h-5.31zM84.16 120.98h5.31v5.31h-5.31zM89.42 120.98h5.31v5.31h-5.31zM105.2 120.98h5.31v5.31h-5.31zM115.72 120.98h5.31v5.31h-5.31zM126.24 120.98h5.31v5.31h-5.31zM136.76 120.98h5.31v5.31h-5.31zM152.54 120.98h5.31v5.31h-5.31zM157.8 120.98h5.31v5.31h-5.31zM205.14 120.98h5.31v5.31h-5.31zM10.52 126.24h5.31v5.31h-5.31zM21.04 126.24h5.31v5.31h-5.31zM105.2 126.24h5.31v5.31h-5.31zM110.46 126.24h5.31v5.31h-5.31zM184.1 126.24h5.31v5.31h-5.31zM0 131.5h5.31v5.31h-5.31zM10.52 131.5h5.31v5.31h-5.31zM15.78 131.5h5.31v5.31h-5.31zM26.3 131.5h5.31v5.31h-5.31zM36.82 131.5h5.31v5.31h-5.31zM47.34 131.5h5.31v5.31h-5.31zM52.6 131.5h5.31v5.31h-5.31zM63.12 131.5h5.31v5.31h-5.31zM68.38 131.5h5.31v5.31h-5.31zM84.16 131.5h5.31v5.31h-5.31zM94.68 131.5h5.31v5.31h-5.31zM105.2 131.5h5.31v5.31h-5.31zM120.98 131.5h5.31v5.31h-5.31zM163.06 131.5h5.31v5.31h-5.31zM173.58 131.5h5.31v5.31h-5.31zM184.1 131.5h5.31v5.31h-5.31zM0 136.76h5.31v5.31h-5.31zM15.78 136.76h5.31v5.31h-5.31zM26.3 136.76h5.31v5.31h-5.31zM42.08 136.76h5.31v5.31h-5.31zM52.6 136.76h5.31v5.31h-5.31zM68.38 136.76h5.31v5.31h-5.31zM94.68 136.76h5.31v5.31h-5.31zM110.46 136.76h5.31v5.31h-5.31zM163.06 136.76h5.31v5.31h-5.31zM36.82 142.02h5.31v5.31h-5.31zM63.12 142.02h5.31v5.31h-5.31zM68.38 142.02h5.31v5.31h-5.31zM115.72 142.02h5.31v5.31h-5.31zM131.5 142.02h5.31v5.31h-5.31zM163.06 142.02h5.31v5.31h-5.31zM178.84 142.02h5.31v5.31h-5.31zM0 147.28h5.31v5.31h-5.31zM26.3 147.28h5.31v5.31h-5.31zM31.56 147.28h5.31v5.31h-5.31zM47.34 147.28h5.31v5.31h-5.31zM110.46 147.28h5.31v5.31h-5.31zM136.76 147.28h5.31v5.31h-5.31zM157.8 147.28h5.31v5.31h-5.31zM168.32 147.28h5.31v5.31h-5.31zM194.62 147.28h5.31v5.31h-5.31zM0 152.54h5.31v5.31h-5.31zM15.78 152.54h5.31v5.31h-5.31zM36.82 152.54h5.31v5.31h-5.31zM47.34 152.54h5.31v5.31h-5.31zM57.86 152.54h5.31v5.31h-5.31zM99.94 152.54h5.31v5.31h-5.31zM120.98 152.54h5.31v5.31h-5.31zM184.1 152.54h5.31v5.31h-5.31zM189.36 152.54h5.31v5.31h-5.31zM194.62 152.54h5.31v5.31h-5.31zM205.14 152.54h5.31v5.31h-5.31zM0 157.8h5.31v5.31h-5.31zM5.26 157.8h5.31v5.31h-5.31zM31.56 157.8h5.31v5.31h-5.31zM36.82 157.8h5.31v5.31h-5.31zM47.34 157.8h5.31v5.31h-5.31zM73.64 157.8h5.31v5.31h-5.31zM126.24 157.8h5.31v5.31h-5.31zM136.76 157.8h5.31v5.31h-5.31zM163.06 157.8h5.31v5.31h-5.31zM189.36 157.8h5.31v5.31h-5.31zM199.88 157.8h5.31v5.31h-5.31zM10.52 163.06h5.31v5.31h-5.31zM15.78 163.06h5.31v5.31h-5.31zM36.82 163.06h5.31v5.31h-5.31zM57.86 163.06h5.31v5.31h-5.31zM68.38 163.06h5.31v5.31h-5.31zM110.46 163.06h5.31v5.31h-5.31zM120.98 163.06h5.31v5.31h-5.31zM147.28 163.06h5.31v5.31h-5.31zM157.8 163.06h5.31v5.31h-5.31zM178.84 163.06h5.31v5.31h-5.31zM194.62 163.06h5.31v5.31h-5.31zM5.26 168.32h5.31v5.31h-5.31zM10.52 168.32h5.31v5.31h-5.31zM36.82 168.32h5.31v5.31h-5.31zM63.12 168.32h5.31v5.31h-5.31zM84.16 168.32h5.31v5.31h-5.31zM110.46 168.32h5.31v5.31h-5.31zM157.8 168.32h5.31v5.31h-5.31zM173.58 168.32h5.31v5.31h-5.31zM189.36 168.32h5.31v5.31h-5.31zM194.62 168.32h5.31v5.31h-5.31zM36.82 173.58h5.31v5.31h-5.31zM84.16 173.58h5.31v5.31h-5.31zM120.98 173.58h5.31v5.31h-5.31zM126.24 173.58h5.31v5.31h-5.31zM136.76 173.58h5.31v5.31h-5.31zM178.84 173.58h5.31v5.31h-5.31zM15.78 178.84h5.31v5.31h-5.31zM31.56 178.84h5.31v5.31h-5.31zM47.34 178.84h5.31v5.31h-5.31zM68.38 178.84h5.31v5.31h-5.31zM73.64 178.84h5.31v5.31h-5.31zM115.72 178.84h5.31v5.31h-5.31zM131.5 178.84h5.31v5.31h-5.31zM152.54 178.84h5.31v5.31h-5.31zM163.06 178.84h5.31v5.31h-5.31zM21.04 184.1h5.31v5.31h-5.31zM36.82 184.1h5.31v5.31h-5.31zM57.86 184.1h5.31v5.31h-5.31zM63.12 184.1h5.31v5.31h-5.31zM89.42 184.1h5.31v5.31h-5.31zM105.2 184.1h5.31v5.31h-5.31zM110.46 184.1h5.31v5.31h-5.31zM136.76 184.1h5.31v5.31h-5.31zM147.28 184.1h5.31v5.31h-5.31zM21.04 189.36h5.31v5.31h-5.31zM26.3 189.36h5.31v5.31h-5.31zM36.82 189.36h5.31v5.31h-5.31zM42.08 189.36h5.31v5.31h-5.31zM47.34 189.36h5.31v5.31h-5.31zM57.86 189.36h5.31v5.31h-5.31zM78.9 189.36h5.31v5.31h-5.31zM110.46 189.36h5.31v5.31h-5.31zM126.24 189.36h5.31v5.31h-5.31zM131.5 189.36h5.31v5.31h-5.31zM142.02 189.36h5.31v5.31h-5.31zM152.54 189.36h5.31v5.31h-5.31zM163.06 189.36h5.31v5.31h-5.31zM168.32 189.36h5.31v5.31h-5.31zM173.58 189.36h5.31v5.31h-5.31zM205.14 189.36h5.31v5.31h-5.31zM57.86 194.62h5.31v5.31h-5.31zM68.38 194.62h5.31v5.31h-5.31zM89.42 194.62h5.31v5.31h-5.31zM105.2 194.62h5.31v5.31h-5.31zM142.02 194.62h5.31v5.31h-5.31zM152.54 194.62h5.31v5.31h-5.31zM168.32 194.62h5.31v5.31h-5.31zM194.62 194.62h5.31v5.31h-5.31zM5.26 199.88h5.31v5.31h-5.31zM31.56 199.88h5.31v5.31h-5.31zM42.08 199.88h5.31v5.31h-5.31zM68.38 199.88h5.31v5.31h-5.31zM78.9 199.88h5.31v5.31h-5.31zM110.46 199.88h5.31v5.31h-5.31zM126.24 199.88h5.31v5.31h-5.31zM157.8 199.88h5.31v5.31h-5.31zM173.58 199.88h5.31v5.31h-5.31zM178.84 199.88h5.31v5.31h-5.31zM21.04 205.14h5.31v5.31h-5.31zM42.08 205.14h5.31v5.31h-5.31zM47.34 205.14h5.31v5.31h-5.31zM63.12 205.14h5.31v5.31h-5.31zM68.38 205.14h5.31v5.31h-5.31zM110.46 205.14h5.31v5.31h-5.31zM136.76 205.14h5.31v5.31h-5.31zM147.28 205.14h5.31v5.31h-5.31zM173.58 205.14h5.31v5.31h-5.31zM178.84 205.14h5.31v5.31h-5.31z" fill="#481a6c"/>
<path d="M105.2 26.3h5.31v5.31h-5.31zM73.64 52.6h5.31v5.31h-5.31z" fill="#463480"/>
<path d="M89.42 26.3h5.31v5.31h-5.31zM94.68 26.3h5.31v5.31h-5.31zM73.64 42.08h5.31v5.31h-5.31zM110.46 47.34h5.31v5.31h-5.31zM115.72 47.34h5.31v5.31h-5.31zM126.24 47.34h5.31v5.31h-5.31zM99.94 52.6h5.31v5.31h-5.31zM84.16 73.64h5.31v5.31h-5.31zM89.42 73.64h5.31v5.31h-5.31z" fill="#433e85"/>
<path d="M99.94 31.56h5.31v5.31h-5.31zM110.46 31.56h5.31v5.31h-5.31zM89.42 36.82h5.31v5.31h-5.31zM120.98 47.34h5.31v5.31h-5.31z" fill="#414487"/>
<path d="M78.9 42.08h5.31v5.31h-5.31zM84.16 42.08h5.31v5.31h-5.31zM73.64 47.34h5.31v5.31h-5.31zM94.68 68.38h5.31v5.31h-5.31z" fill="#3e4989"/>
<path d="M120.98 42.08h5.31v5.31h-5.31zM105.2 47.34h5.31v5.31h-5.31zM89.42 68.38h5.31v5.31h-5.31z" fill="#3b528b"/>
<path d="M78.9 68.38h5.31v5.31h-5.31z" fill="#38588c"/>
<path d="M105.2 31.56h5.31v5.31h-5.31zM94.68 63.12h5.31v5.31h-5.31z" fill="#355f8d"/>
<path d="M115.72 36.82h5.31v5.31h-5.31zM89.42 42.08h5.31v5.31h-5.31zM78.9 47.34h5.31v5.31h-5.31z" fill="#32648e"/>
<path d="M89.42 31.56h5.31v5.31h-5.31zM94.68 31.56h5.31v5.31h-5.31zM84.16 47.34h5.31v5.31h-5.31zM89.42 47.34h5.31v5.31h-5.31zM84.16 68.38h5.31v5.31h-5.31z" fill="#2f6c8e"/>
<path d="M115.72 42.08h5.31v5.31h-5.31z" fill="#287d8e"/>
<path d="M94.68 57.86h5.31v5.31h-5.31zM89.42 63.12h5.31v5.31h-5.31z" fill="#25848e"/>
<path d="M110.46 42.08h5.31v5.31h-5.31zM78.9 52.6h5.31v5.31h-5.31zM94.68 52.6h5.31v5.31h-5.31zM78.9 63.12h5.31v5.31h-5.31z" fill="#21918c"/>
<path d="M105.2 42.08h5.31v5.31h-5.31zM78.9 57.86h5.31v5.31h-5.31z" fill="#1e9c89"/>
<path d="M110.46 36.82h5.31v5.31h-5.31z" fill="#1fa188"/>
<path d="M94.68 47.34h5.31v5.31h-5.31z" fill="#22a884"/>
<path d="M99.94 47.34h5.31v5.31h-5.31z" fill="#26ad81"/>
<path d="M94.68 36.82h5.31v5.31h-5.31z" fill="#3bbb75"/>
<path d="M94.68 42.08h5.31v5.31h-5.31z" fill="#86d549"/>
<path d="M105.2 36.82h5.31v5.31h-5.31z" fill="#f1e51d"/>
<path d="M99.94 36.82h5.31v5.31h-5.31zM99.94 42.08h5.31v5.31h-5.31z" fill="#fde725"/>
<path d="M84.16 63.12h5.31v5.31h-5.31z" fill="#fde725"/>
<path d="M84.16 52.6h5.31v5.31h-5.31zM89.42 52.6h5.31v5.31h-5.31zM84.16 57.86h5.31v5.31h-5.31zM89.42 57.86h5.31v5.31h-5.31z" fill="#fde725"/>
</g>
</defs>
<g clip-path="url(#ca)">
<g filter="url(#na)">
<rect x="20" y="10" width="320" height="450" fill="#637876"/>
<rect x="20" y="10" width="320" height="450" fill="url(#dk)"/>
<g filter="url(#ba3)" stroke="#34494a" stroke-opacity="0.5" stroke-width="24" fill="none" stroke-linecap="round" stroke-linejoin="round">
<path d="M187.8 5L186.4 110L183.4 210"/>
<path d="M14 130L70 193.5"/>
<path d="M345 156L297.5 199"/>
<path d="M181 328V470"/>
<path d="M148.6 328L146.8 372Q144.5 400 137 420L120 462"/>
<path d="M214 328L213.6 375Q215 400 221 420L236 462"/>
<path d="M107.6 240.5L108.7 243L111.7 260L113.7 278L114.9 295.4L116.8 313L117.2 330.6L116.3 348L115 366Q114 377 108.5 384L36 463"/>
<path d="M257.4 243.5L257.5 246L256.7 260L254.2 278L251.4 295.4L249.1 313L247.7 330.6L247.2 348L247.5 366Q248 378 253.5 385.5L325 463"/>
</g>
<g filter="url(#ba1)" stroke="#b3c1bf" stroke-width="12.4" fill="none" stroke-linecap="round" stroke-linejoin="round">
<path d="M187.8 5L186.4 110L183.4 210"/>
<path d="M14 130L70 193.5" stroke="#a7b7b5" stroke-width="9"/>
<path d="M345 156L297.5 199" stroke="#a7b7b5" stroke-width="9"/>
<path d="M181 328V470"/>
<path d="M148.6 328L146.8 372Q144.5 400 137 420L120 462"/>
<path d="M214 328L213.6 375Q215 400 221 420L236 462"/>
</g>
<g filter="url(#ba1)" stroke="#e83848" stroke-opacity="0.5" stroke-width="17" fill="none" stroke-linecap="round" stroke-linejoin="round">
<path d="M107.6 240.5L108.7 243L111.7 260L113.7 278L114.9 295.4L116.8 313L117.2 330.6L116.3 348L115 366Q114 377 108.5 384L36 463"/>
<path d="M257.4 243.5L257.5 246L256.7 260L254.2 278L251.4 295.4L249.1 313L247.7 330.6L247.2 348L247.5 366Q248 378 253.5 385.5L325 463"/>
</g>
<g filter="url(#ba0)" stroke="#f21a2e" stroke-width="12.5" fill="none" stroke-linecap="round" stroke-linejoin="round">
<path d="M107.6 240.5L108.7 243L111.7 260L113.7 278L114.9 295.4L116.8 313L117.2 330.6L116.3 348L115 366Q114 377 108.5 384L36 463"/>
<path d="M257.4 243.5L257.5 246L256.7 260L254.2 278L251.4 295.4L249.1 313L247.7 330.6L247.2 348L247.5 366Q248 378 253.5 385.5L325 463"/>
</g>
</g>
<g filter="url(#rn)" stroke="#fff" stroke-width="6.5" fill="none" stroke-linecap="round" stroke-linejoin="round" opacity="0.85">
<path d="M107.6 240.5L108.7 243L111.7 260L113.7 278L114.9 295.4L116.8 313L117.2 330.6L116.3 348L115 366Q114 377 108.5 384L36 463"/>
<path d="M257.4 243.5L257.5 246L256.7 260L254.2 278L251.4 295.4L249.1 313L247.7 330.6L247.2 348L247.5 366Q248 378 253.5 385.5L325 463"/>
</g>
</g>
<rect x="78.2" y="95.4" width="39.4" height="39.0" fill="#a0a0a0" stroke="#fff" stroke-width="1.6"/>
<path d="M78.5 95.7l38.8 38.4M117.3 95.7l-38.8 38.4" stroke="#000" stroke-width="1.5" fill="none"/>
<rect x="241" y="95.4" width="39.4" height="39.0" fill="#a0a0a0" stroke="#fff" stroke-width="1.6"/>
<path d="M241.3 95.7l38.8 38.4M280.1 95.7l-38.8 38.4" stroke="#000" stroke-width="1.5" fill="none"/>
<circle cx="258.4" cy="53.7" r="21" fill="none" stroke="#000" stroke-width="1.6"/>
<text font-family="'Liberation Sans', Arial, Helvetica, sans-serif" font-size="19.2" fill="#000"><tspan x="255.9" y="60.4">I</tspan></text>
<path d="M258.4 74.7V95M279.4 53.7H313.6V66.6M296.3 66.6H330M296.3 70.7H330M304.9 74.7H321.8" stroke="#000" stroke-width="1.6" fill="none"/>
<path d="M97.5 136A82.8 110 0 0 0 263.1 136" stroke="#fff" stroke-width="1.7" fill="none" stroke-dasharray="12.5 7.6"/>
<path d="M223.4 215Q237 193 245 171.5" stroke="#fff" stroke-width="1.7" fill="none" stroke-dasharray="12.4 7.5"/>
<path d="M249.6 159.2L238.2 169.7L250.6 175.5Z" fill="#fff"/>
<text font-family="'Liberation Sans', Arial, Helvetica, sans-serif" font-size="28" fill="#fff"><tspan x="52" y="287.6">V</tspan><tspan x="71.6" y="297.1" font-size="16">B1</tspan></text>
<text font-family="'Liberation Sans', Arial, Helvetica, sans-serif" font-size="28" fill="#fff"><tspan x="267.8" y="287.9">V</tspan><tspan x="286.9" y="297.4" font-size="16.3">B2</tspan></text>
<text font-family="'Liberation Sans', Arial, Helvetica, sans-serif" font-size="19.6" fill="#fff"><tspan x="33.9" y="405.3">200nm</tspan></text>
<path d="M35 424.6H89M35 412.4V437M89.3 412.4V437" stroke="#fff" stroke-width="1.8" fill="none"/>
<text font-family="'Liberation Sans', Arial, Helvetica, sans-serif" font-size="25.5" fill="#000" font-weight="bold"><tspan x="-0.3" y="15.6">a</tspan></text>
<use href="#hm" x="390.7" y="0.6"/>
<path d="M393.33 3.23H598.47V208.37H393.33ZM493.27 3.23V208.37M393.33 108.43H598.47M440.67 55.83H545.87V161.03H440.67Z" stroke="#fb0007" stroke-width="3.0" fill="none" stroke-linejoin="miter"/>
<path d="M391 211V0.8H600.9V211M391 206.7H600.9" fill="none" stroke="#111" stroke-width="1.3"/>
<path d="M383.7 18.8V218.5H585" stroke="#d4d4d4" stroke-width="1" fill="none"/>
<path d="M383.9 8.8l5.7 15.6h-11.4z" fill="#000"/>
<path d="M596.6 218.8l-16 5.2v-10.4z" fill="#000"/>
<text font-family="'Liberation Sans', Arial, Helvetica, sans-serif" font-size="25.5" fill="#000" font-weight="bold"><tspan x="352.8" y="16">c</tspan></text>
<g transform="translate(368.4 131.6) rotate(-90)">
<text font-family="'Liberation Sans', Arial, Helvetica, sans-serif" font-size="23" fill="#000"><tspan x="-0.3" y="0">V</tspan><tspan x="15.3" y="7.9" font-size="13.5">B2</tspan></text>
</g>
<text font-family="'Liberation Sans', Arial, Helvetica, sans-serif" font-size="22.5" fill="#000"><tspan x="478.2" y="237.9">V</tspan><tspan x="493" y="245.4" font-size="13.6">B1</tspan></text>
<rect x="608.5" y="6.75" width="10.3" height="205.15" fill="url(#cbB)" stroke="#000" stroke-width="1.1"/>
<text font-family="'Liberation Sans', Arial, Helvetica, sans-serif" font-size="16.8" fill="#000" x="631.5 642.31 647.72" y="13.25">0.4</text>
<text font-family="'Liberation Sans', Arial, Helvetica, sans-serif" font-size="16.8" fill="#000" x="631.5 642.31 647.72" y="64.54">0.3</text>
<text font-family="'Liberation Sans', Arial, Helvetica, sans-serif" font-size="16.8" fill="#000" x="631.5 642.31 647.72" y="115.83">0.2</text>
<text font-family="'Liberation Sans', Arial, Helvetica, sans-serif" font-size="16.8" fill="#000" x="631.5 642.31 647.72" y="167.11">0.1</text>
<text font-family="'Liberation Sans', Arial, Helvetica, sans-serif" font-size="16.8" fill="#000" x="631.5 642.31 647.72" y="218.4">0.0</text>
<path d="M618.8 6.75h5.8M618.8 58.04h5.8M618.8 109.33h5.8M618.8 160.61h5.8M618.8 211.9h5.8" stroke="#000" stroke-width="1.1" fill="none"/>
<text font-family="'Liberation Sans', Arial, Helvetica, sans-serif" font-size="21.8" fill="#000" x="627.5 633.81 640.62 648.96 662.53 677.17" y="36.5">I (nA)</text>
<use href="#hm" x="390.7" y="247.6"/>
<path d="M393.33 302.83H598.47V408.03H393.33ZM493.27 302.83V408.03M440.67 302.83V455.37H545.87V302.83" stroke="#fb0007" stroke-width="3.0" fill="none"/>
<rect x="440.67" y="250.23" width="105.2" height="99.94" stroke="#1bf224" stroke-width="3.0" fill="none"/>
<path d="M391 458V247.8H600.9V458M391 457.7H600.9" fill="none" stroke="#111" stroke-width="1.3"/>
<path d="M383.7 269.6V465.7H585" stroke="#d4d4d4" stroke-width="1" fill="none"/>
<path d="M383.9 259.6l5.7 15.6h-11.4z" fill="#000"/>
<path d="M596.6 466l-16 5.2v-10.4z" fill="#000"/>
<text font-family="'Liberation Sans', Arial, Helvetica, sans-serif" font-size="25.5" fill="#000" font-weight="bold"><tspan x="352.8" y="246.2">d</tspan></text>
<g transform="translate(368.4 382.7) rotate(-90)">
<text font-family="'Liberation Sans', Arial, Helvetica, sans-serif" font-size="23" fill="#000"><tspan x="-0.3" y="0">V</tspan><tspan x="15.3" y="7.9" font-size="13.5">B2</tspan></text>
</g>
<text font-family="'Liberation Sans', Arial, Helvetica, sans-serif" font-size="22.5" fill="#000"><tspan x="477.3" y="486.9">V</tspan><tspan x="492.1" y="494.4" font-size="13.6">B1</tspan></text>
<rect x="608.5" y="248.1" width="10.3" height="204.8" fill="url(#cbB)" stroke="#000" stroke-width="1.1"/>
<text font-family="'Liberation Sans', Arial, Helvetica, sans-serif" font-size="16.8" fill="#000" x="631.5 642.31 647.72" y="254.6">0.4</text>
<text font-family="'Liberation Sans', Arial, Helvetica, sans-serif" font-size="16.8" fill="#000" x="631.5 642.31 647.72" y="305.8">0.3</text>
<text font-family="'Liberation Sans', Arial, Helvetica, sans-serif" font-size="16.8" fill="#000" x="631.5 642.31 647.72" y="357">0.2</text>
<text font-family="'Liberation Sans', Arial, Helvetica, sans-serif" font-size="16.8" fill="#000" x="631.5 642.31 647.72" y="408.2">0.1</text>
<text font-family="'Liberation Sans', Arial, Helvetica, sans-serif" font-size="16.8" fill="#000" x="631.5 642.31 647.72" y="459.4">0.0</text>
<path d="M618.8 248.1h5.8M618.8 299.3h5.8M618.8 350.5h5.8M618.8 401.7h5.8M618.8 452.9h5.8" stroke="#000" stroke-width="1.1" fill="none"/>
<text font-family="'Liberation Sans', Arial, Helvetica, sans-serif" font-size="21.8" fill="#000" x="627.5 633.81 640.62 648.96 662.53 677.17" y="279.2">I (nA)</text>
<g id="pb">
<clipPath id="cb"><rect x="110.9" y="508.1" width="413.28" height="413.8"/></clipPath>
<g clip-path="url(#cb)"><g filter="url(#vir)">
<rect x="110.9" y="508.1" width="413.28" height="413.8" fill="#030303"/>
<g id="fld" filter="url(#bl3)">
<rect x="406.1" y="496.1" width="10.14" height="22.15" fill="#242424"/>
<rect x="415.94" y="496.1" width="10.14" height="22.15" fill="#9c9c9c"/>
<rect x="425.78" y="496.1" width="10.14" height="22.15" fill="#8e8e8e"/>
<rect x="435.62" y="496.1" width="10.14" height="22.15" fill="#888888"/>
<rect x="445.46" y="496.1" width="10.14" height="22.15" fill="#a9a9a9"/>
<rect x="455.3" y="496.1" width="10.14" height="22.15" fill="#e5e5e5"/>
<rect x="465.14" y="496.1" width="10.14" height="22.15" fill="#c4c4c4"/>
<rect x="474.98" y="496.1" width="10.14" height="22.15" fill="#ececec"/>
<rect x="484.82" y="496.1" width="10.14" height="22.15" fill="#cacaca"/>
<rect x="494.66" y="496.1" width="10.14" height="22.15" fill="#ffffff"/>
<rect x="504.5" y="496.1" width="10.14" height="22.15" fill="#a9a9a9"/>
<rect x="514.34" y="496.1" width="22.14" height="22.15" fill="#8e8e8e"/>
<rect x="406.1" y="517.95" width="10.14" height="10.15" fill="#3e3e3e"/>
<rect x="415.94" y="517.95" width="10.14" height="10.15" fill="#8e8e8e"/>
<rect x="425.78" y="517.95" width="10.14" height="10.15" fill="#8e8e8e"/>
<rect x="435.62" y="517.95" width="10.14" height="10.15" fill="#a2a2a2"/>
<rect x="445.46" y="517.95" width="10.14" height="10.15" fill="#d8d8d8"/>
<rect x="455.3" y="517.95" width="10.14" height="10.15" fill="#b0b0b0"/>
<rect x="465.14" y="517.95" width="10.14" height="10.15" fill="#818181"/>
<rect x="474.98" y="517.95" width="10.14" height="10.15" fill="#e5e5e5"/>
<rect x="484.82" y="517.95" width="10.14" height="10.15" fill="#cacaca"/>
<rect x="494.66" y="517.95" width="10.14" height="10.15" fill="#ffffff"/>
<rect x="504.5" y="517.95" width="10.14" height="10.15" fill="#a9a9a9"/>
<rect x="514.34" y="517.95" width="22.14" height="10.15" fill="#8e8e8e"/>
<rect x="406.1" y="527.81" width="10.14" height="10.15" fill="#3e3e3e"/>
<rect x="415.94" y="527.81" width="10.14" height="10.15" fill="#6d6d6d"/>
<rect x="425.78" y="527.81" width="10.14" height="10.15" fill="#a9a9a9"/>
<rect x="435.62" y="527.81" width="10.14" height="10.15" fill="#e5e5e5"/>
<rect x="445.46" y="527.81" width="10.14" height="10.15" fill="#ffffff"/>
<rect x="455.3" y="527.81" width="10.14" height="10.15" fill="#ffffff"/>
<rect x="465.14" y="527.81" width="10.14" height="10.15" fill="#f9f9f9"/>
<rect x="474.98" y="527.81" width="10.14" height="10.15" fill="#ececec"/>
<rect x="484.82" y="527.81" width="10.14" height="10.15" fill="#c4c4c4"/>
<rect x="494.66" y="527.81" width="10.14" height="10.15" fill="#e5e5e5"/>
<rect x="504.5" y="527.81" width="10.14" height="10.15" fill="#d8d8d8"/>
<rect x="514.34" y="527.81" width="22.14" height="10.15" fill="#a2a2a2"/>
<rect x="406.1" y="537.66" width="10.14" height="10.15" fill="#2a2a2a"/>
<rect x="415.94" y="537.66" width="10.14" height="10.15" fill="#818181"/>
<rect x="425.78" y="537.66" width="10.14" height="10.15" fill="#c4c4c4"/>
<rect x="435.62" y="537.66" width="10.14" height="10.15" fill="#ececec"/>
<rect x="445.46" y="537.66" width="10.14" height="10.15" fill="#ffffff"/>
<rect x="455.3" y="537.66" width="10.14" height="10.15" fill="#ffffff"/>
<rect x="465.14" y="537.66" width="10.14" height="10.15" fill="#f2f2f2"/>
<rect x="474.98" y="537.66" width="10.14" height="10.15" fill="#ececec"/>
<rect x="484.82" y="537.66" width="10.14" height="10.15" fill="#e5e5e5"/>
<rect x="494.66" y="537.66" width="10.14" height="10.15" fill="#cacaca"/>
<rect x="504.5" y="537.66" width="10.14" height="10.15" fill="#c4c4c4"/>
<rect x="514.34" y="537.66" width="22.14" height="10.15" fill="#a9a9a9"/>
<rect x="406.1" y="547.51" width="10.14" height="10.15" fill="#313131"/>
<rect x="415.94" y="547.51" width="10.14" height="10.15" fill="#818181"/>
<rect x="425.78" y="547.51" width="10.14" height="10.15" fill="#d1d1d1"/>
<rect x="435.62" y="547.51" width="10.14" height="10.15" fill="#e5e5e5"/>
<rect x="445.46" y="547.51" width="10.14" height="10.15" fill="#b0b0b0"/>
<rect x="455.3" y="547.51" width="10.14" height="10.15" fill="#f9f9f9"/>
<rect x="465.14" y="547.51" width="10.14" height="10.15" fill="#bdbdbd"/>
<rect x="474.98" y="547.51" width="10.14" height="10.15" fill="#f2f2f2"/>
<rect x="484.82" y="547.51" width="10.14" height="10.15" fill="#f2f2f2"/>
<rect x="494.66" y="547.51" width="10.14" height="10.15" fill="#f9f9f9"/>
<rect x="504.5" y="547.51" width="10.14" height="10.15" fill="#ececec"/>
<rect x="514.34" y="547.51" width="22.14" height="10.15" fill="#c4c4c4"/>
<rect x="406.1" y="557.36" width="10.14" height="10.15" fill="#3e3e3e"/>
<rect x="415.94" y="557.36" width="10.14" height="10.15" fill="#6d6d6d"/>
<rect x="425.78" y="557.36" width="10.14" height="10.15" fill="#8e8e8e"/>
<rect x="435.62" y="557.36" width="10.14" height="10.15" fill="#c4c4c4"/>
<rect x="445.46" y="557.36" width="10.14" height="10.15" fill="#888888"/>
<rect x="455.3" y="557.36" width="10.14" height="10.15" fill="#d8d8d8"/>
<rect x="465.14" y="557.36" width="10.14" height="10.15" fill="#a9a9a9"/>
<rect x="474.98" y="557.36" width="10.14" height="10.15" fill="#f2f2f2"/>
<rect x="484.82" y="557.36" width="10.14" height="10.15" fill="#ececec"/>
<rect x="494.66" y="557.36" width="10.14" height="10.15" fill="#ececec"/>
<rect x="504.5" y="557.36" width="10.14" height="10.15" fill="#d8d8d8"/>
<rect x="514.34" y="557.36" width="22.14" height="10.15" fill="#8e8e8e"/>
<rect x="406.1" y="567.22" width="10.14" height="10.15" fill="#0f0f0f"/>
<rect x="415.94" y="567.22" width="10.14" height="10.15" fill="#3e3e3e"/>
<rect x="425.78" y="567.22" width="10.14" height="10.15" fill="#818181"/>
<rect x="435.62" y="567.22" width="10.14" height="10.15" fill="#bdbdbd"/>
<rect x="445.46" y="567.22" width="10.14" height="10.15" fill="#b6b6b6"/>
<rect x="455.3" y="567.22" width="10.14" height="10.15" fill="#a2a2a2"/>
<rect x="465.14" y="567.22" width="10.14" height="10.15" fill="#666666"/>
<rect x="474.98" y="567.22" width="10.14" height="10.15" fill="#cacaca"/>
<rect x="484.82" y="567.22" width="10.14" height="10.15" fill="#d8d8d8"/>
<rect x="494.66" y="567.22" width="10.14" height="10.15" fill="#ececec"/>
<rect x="504.5" y="567.22" width="10.14" height="10.15" fill="#f9f9f9"/>
<rect x="514.34" y="567.22" width="22.14" height="10.15" fill="#c4c4c4"/>
<rect x="406.1" y="577.07" width="10.14" height="10.15" fill="#0f0f0f"/>
<rect x="415.94" y="577.07" width="10.14" height="10.15" fill="#4c4c4c"/>
<rect x="425.78" y="577.07" width="10.14" height="10.15" fill="#6d6d6d"/>
<rect x="435.62" y="577.07" width="10.14" height="10.15" fill="#818181"/>
<rect x="445.46" y="577.07" width="10.14" height="10.15" fill="#3e3e3e"/>
<rect x="455.3" y="577.07" width="10.14" height="10.15" fill="#4c4c4c"/>
<rect x="465.14" y="577.07" width="10.14" height="10.15" fill="#4c4c4c"/>
<rect x="474.98" y="577.07" width="10.14" height="10.15" fill="#c4c4c4"/>
<rect x="484.82" y="577.07" width="10.14" height="10.15" fill="#cacaca"/>
<rect x="494.66" y="577.07" width="10.14" height="10.15" fill="#e5e5e5"/>
<rect x="504.5" y="577.07" width="10.14" height="10.15" fill="#ececec"/>
<rect x="514.34" y="577.07" width="22.14" height="10.15" fill="#a2a2a2"/>
<rect x="406.1" y="586.92" width="10.14" height="10.15" fill="#0f0f0f"/>
<rect x="415.94" y="586.92" width="10.14" height="10.15" fill="#606060"/>
<rect x="425.78" y="586.92" width="10.14" height="10.15" fill="#e5e5e5"/>
<rect x="435.62" y="586.92" width="10.14" height="10.15" fill="#888888"/>
<rect x="445.46" y="586.92" width="10.14" height="10.15" fill="#a2a2a2"/>
<rect x="455.3" y="586.92" width="10.14" height="10.15" fill="#c4c4c4"/>
<rect x="465.14" y="586.92" width="10.14" height="10.15" fill="#6d6d6d"/>
<rect x="474.98" y="586.92" width="10.14" height="10.15" fill="#d8d8d8"/>
<rect x="484.82" y="586.92" width="10.14" height="10.15" fill="#a9a9a9"/>
<rect x="494.66" y="586.92" width="10.14" height="10.15" fill="#cacaca"/>
<rect x="504.5" y="586.92" width="10.14" height="10.15" fill="#f9f9f9"/>
<rect x="514.34" y="586.92" width="22.14" height="10.15" fill="#a2a2a2"/>
<rect x="406.1" y="596.77" width="10.14" height="10.15" fill="#0f0f0f"/>
<rect x="415.94" y="596.77" width="10.14" height="10.15" fill="#3e3e3e"/>
<rect x="425.78" y="596.77" width="10.14" height="10.15" fill="#d8d8d8"/>
<rect x="435.62" y="596.77" width="10.14" height="10.15" fill="#818181"/>
<rect x="445.46" y="596.77" width="10.14" height="10.15" fill="#ececec"/>
<rect x="455.3" y="596.77" width="10.14" height="10.15" fill="#f9f9f9"/>
<rect x="465.14" y="596.77" width="10.14" height="10.15" fill="#ececec"/>
<rect x="474.98" y="596.77" width="10.14" height="10.15" fill="#ececec"/>
<rect x="484.82" y="596.77" width="10.14" height="10.15" fill="#b0b0b0"/>
<rect x="494.66" y="596.77" width="10.14" height="10.15" fill="#d8d8d8"/>
<rect x="504.5" y="596.77" width="10.14" height="10.15" fill="#ececec"/>
<rect x="514.34" y="596.77" width="22.14" height="10.15" fill="#8e8e8e"/>
<rect x="406.1" y="606.62" width="10.14" height="10.15" fill="#090909"/>
<rect x="415.94" y="606.62" width="10.14" height="10.15" fill="#242424"/>
<rect x="425.78" y="606.62" width="10.14" height="10.15" fill="#d8d8d8"/>
<rect x="435.62" y="606.62" width="10.14" height="10.15" fill="#818181"/>
<rect x="445.46" y="606.62" width="10.14" height="10.15" fill="#ececec"/>
<rect x="455.3" y="606.62" width="10.14" height="10.15" fill="#ffffff"/>
<rect x="465.14" y="606.62" width="10.14" height="10.15" fill="#f2f2f2"/>
<rect x="474.98" y="606.62" width="10.14" height="10.15" fill="#d8d8d8"/>
<rect x="484.82" y="606.62" width="10.14" height="10.15" fill="#c4c4c4"/>
<rect x="494.66" y="606.62" width="10.14" height="10.15" fill="#cacaca"/>
<rect x="504.5" y="606.62" width="10.14" height="10.15" fill="#ececec"/>
<rect x="514.34" y="606.62" width="22.14" height="10.15" fill="#e5e5e5"/>
<rect x="406.1" y="616.48" width="10.14" height="10.15" fill="#090909"/>
<rect x="415.94" y="616.48" width="10.14" height="10.15" fill="#3e3e3e"/>
<rect x="425.78" y="616.48" width="10.14" height="10.15" fill="#c4c4c4"/>
<rect x="435.62" y="616.48" width="10.14" height="10.15" fill="#888888"/>
<rect x="445.46" y="616.48" width="10.14" height="10.15" fill="#ececec"/>
<rect x="455.3" y="616.48" width="10.14" height="10.15" fill="#ffffff"/>
<rect x="465.14" y="616.48" width="10.14" height="10.15" fill="#f9f9f9"/>
<rect x="474.98" y="616.48" width="10.14" height="10.15" fill="#cacaca"/>
<rect x="484.82" y="616.48" width="10.14" height="10.15" fill="#e5e5e5"/>
<rect x="494.66" y="616.48" width="10.14" height="10.15" fill="#b0b0b0"/>
<rect x="504.5" y="616.48" width="10.14" height="10.15" fill="#d8d8d8"/>
<rect x="514.34" y="616.48" width="22.14" height="10.15" fill="#c4c4c4"/>
<rect x="406.1" y="626.33" width="10.14" height="10.15" fill="#090909"/>
<rect x="415.94" y="626.33" width="10.14" height="10.15" fill="#242424"/>
<rect x="425.78" y="626.33" width="10.14" height="10.15" fill="#c4c4c4"/>
<rect x="435.62" y="626.33" width="10.14" height="10.15" fill="#ececec"/>
<rect x="445.46" y="626.33" width="10.14" height="10.15" fill="#a2a2a2"/>
<rect x="455.3" y="626.33" width="10.14" height="10.15" fill="#b0b0b0"/>
<rect x="465.14" y="626.33" width="10.14" height="10.15" fill="#d8d8d8"/>
<rect x="474.98" y="626.33" width="10.14" height="10.15" fill="#a9a9a9"/>
<rect x="484.82" y="626.33" width="10.14" height="10.15" fill="#f9f9f9"/>
<rect x="494.66" y="626.33" width="10.14" height="10.15" fill="#e5e5e5"/>
<rect x="504.5" y="626.33" width="10.14" height="10.15" fill="#d8d8d8"/>
<rect x="514.34" y="626.33" width="22.14" height="10.15" fill="#d8d8d8"/>
<rect x="406.1" y="636.18" width="10.14" height="10.15" fill="#0f0f0f"/>
<rect x="415.94" y="636.18" width="10.14" height="10.15" fill="#2a2a2a"/>
<rect x="425.78" y="636.18" width="10.14" height="10.15" fill="#818181"/>
<rect x="435.62" y="636.18" width="10.14" height="10.15" fill="#e5e5e5"/>
<rect x="445.46" y="636.18" width="10.14" height="10.15" fill="#d8d8d8"/>
<rect x="455.3" y="636.18" width="10.14" height="10.15" fill="#8e8e8e"/>
<rect x="465.14" y="636.18" width="10.14" height="10.15" fill="#8e8e8e"/>
<rect x="474.98" y="636.18" width="10.14" height="10.15" fill="#c4c4c4"/>
<rect x="484.82" y="636.18" width="10.14" height="10.15" fill="#ffffff"/>
<rect x="494.66" y="636.18" width="10.14" height="10.15" fill="#ececec"/>
<rect x="504.5" y="636.18" width="10.14" height="10.15" fill="#e5e5e5"/>
<rect x="514.34" y="636.18" width="22.14" height="10.15" fill="#c4c4c4"/>
<rect x="406.1" y="646.04" width="10.14" height="10.15" fill="#0f0f0f"/>
<rect x="415.94" y="646.04" width="10.14" height="10.15" fill="#1d1d1d"/>
<rect x="425.78" y="646.04" width="10.14" height="10.15" fill="#4c4c4c"/>
<rect x="435.62" y="646.04" width="10.14" height="10.15" fill="#d8d8d8"/>
<rect x="445.46" y="646.04" width="10.14" height="10.15" fill="#b0b0b0"/>
<rect x="455.3" y="646.04" width="10.14" height="10.15" fill="#ececec"/>
<rect x="465.14" y="646.04" width="10.14" height="10.15" fill="#a2a2a2"/>
<rect x="474.98" y="646.04" width="10.14" height="10.15" fill="#c4c4c4"/>
<rect x="484.82" y="646.04" width="10.14" height="10.15" fill="#ffffff"/>
<rect x="494.66" y="646.04" width="10.14" height="10.15" fill="#f9f9f9"/>
<rect x="504.5" y="646.04" width="10.14" height="10.15" fill="#e5e5e5"/>
<rect x="514.34" y="646.04" width="22.14" height="10.15" fill="#c4c4c4"/>
<rect x="406.1" y="655.89" width="10.14" height="10.15" fill="#090909"/>
<rect x="415.94" y="655.89" width="10.14" height="10.15" fill="#0f0f0f"/>
<rect x="425.78" y="655.89" width="10.14" height="10.15" fill="#2a2a2a"/>
<rect x="435.62" y="655.89" width="10.14" height="10.15" fill="#c4c4c4"/>
<rect x="445.46" y="655.89" width="10.14" height="10.15" fill="#c4c4c4"/>
<rect x="455.3" y="655.89" width="10.14" height="10.15" fill="#e5e5e5"/>
<rect x="465.14" y="655.89" width="10.14" height="10.15" fill="#888888"/>
<rect x="474.98" y="655.89" width="10.14" height="10.15" fill="#a9a9a9"/>
<rect x="484.82" y="655.89" width="10.14" height="10.15" fill="#ffffff"/>
<rect x="494.66" y="655.89" width="10.14" height="10.15" fill="#ffffff"/>
<rect x="504.5" y="655.89" width="10.14" height="10.15" fill="#d8d8d8"/>
<rect x="514.34" y="655.89" width="22.14" height="10.15" fill="#e5e5e5"/>
<rect x="406.1" y="665.74" width="10.14" height="10.15" fill="#090909"/>
<rect x="415.94" y="665.74" width="10.14" height="10.15" fill="#090909"/>
<rect x="425.78" y="665.74" width="10.14" height="10.15" fill="#606060"/>
<rect x="435.62" y="665.74" width="10.14" height="10.15" fill="#d8d8d8"/>
<rect x="445.46" y="665.74" width="10.14" height="10.15" fill="#8e8e8e"/>
<rect x="455.3" y="665.74" width="10.14" height="10.15" fill="#ffffff"/>
<rect x="465.14" y="665.74" width="10.14" height="10.15" fill="#a9a9a9"/>
<rect x="474.98" y="665.74" width="10.14" height="10.15" fill="#b0b0b0"/>
<rect x="484.82" y="665.74" width="10.14" height="10.15" fill="#f2f2f2"/>
<rect x="494.66" y="665.74" width="10.14" height="10.15" fill="#f9f9f9"/>
<rect x="504.5" y="665.74" width="10.14" height="10.15" fill="#ececec"/>
<rect x="514.34" y="665.74" width="22.14" height="10.15" fill="#ffffff"/>
<rect x="406.1" y="675.59" width="10.14" height="10.15" fill="#090909"/>
<rect x="415.94" y="675.59" width="10.14" height="10.15" fill="#090909"/>
<rect x="425.78" y="675.59" width="10.14" height="10.15" fill="#242424"/>
<rect x="435.62" y="675.59" width="10.14" height="10.15" fill="#a2a2a2"/>
<rect x="445.46" y="675.59" width="10.14" height="10.15" fill="#6d6d6d"/>
<rect x="455.3" y="675.59" width="10.14" height="10.15" fill="#c4c4c4"/>
<rect x="465.14" y="675.59" width="10.14" height="10.15" fill="#a2a2a2"/>
<rect x="474.98" y="675.59" width="10.14" height="10.15" fill="#8e8e8e"/>
<rect x="484.82" y="675.59" width="10.14" height="10.15" fill="#ececec"/>
<rect x="494.66" y="675.59" width="10.14" height="10.15" fill="#e5e5e5"/>
<rect x="504.5" y="675.59" width="10.14" height="10.15" fill="#e5e5e5"/>
<rect x="514.34" y="675.59" width="22.14" height="10.15" fill="#f9f9f9"/>
<rect x="406.1" y="685.44" width="10.14" height="10.15" fill="#090909"/>
<rect x="415.94" y="685.44" width="10.14" height="10.15" fill="#0f0f0f"/>
<rect x="425.78" y="685.44" width="10.14" height="10.15" fill="#242424"/>
<rect x="435.62" y="685.44" width="10.14" height="10.15" fill="#606060"/>
<rect x="445.46" y="685.44" width="10.14" height="10.15" fill="#4c4c4c"/>
<rect x="455.3" y="685.44" width="10.14" height="10.15" fill="#818181"/>
<rect x="465.14" y="685.44" width="10.14" height="10.15" fill="#818181"/>
<rect x="474.98" y="685.44" width="10.14" height="10.15" fill="#a2a2a2"/>
<rect x="484.82" y="685.44" width="10.14" height="10.15" fill="#c4c4c4"/>
<rect x="494.66" y="685.44" width="10.14" height="10.15" fill="#d8d8d8"/>
<rect x="504.5" y="685.44" width="10.14" height="10.15" fill="#d8d8d8"/>
<rect x="514.34" y="685.44" width="22.14" height="10.15" fill="#e5e5e5"/>
<rect x="406.1" y="695.3" width="10.14" height="10.15" fill="#090909"/>
<rect x="415.94" y="695.3" width="10.14" height="10.15" fill="#090909"/>
<rect x="425.78" y="695.3" width="10.14" height="10.15" fill="#161616"/>
<rect x="435.62" y="695.3" width="10.14" height="10.15" fill="#3e3e3e"/>
<rect x="445.46" y="695.3" width="10.14" height="10.15" fill="#313131"/>
<rect x="455.3" y="695.3" width="10.14" height="10.15" fill="#666666"/>
<rect x="465.14" y="695.3" width="10.14" height="10.15" fill="#6d6d6d"/>
<rect x="474.98" y="695.3" width="10.14" height="10.15" fill="#8e8e8e"/>
<rect x="484.82" y="695.3" width="10.14" height="10.15" fill="#b0b0b0"/>
<rect x="494.66" y="695.3" width="10.14" height="10.15" fill="#cacaca"/>
<rect x="504.5" y="695.3" width="10.14" height="10.15" fill="#c4c4c4"/>
<rect x="514.34" y="695.3" width="22.14" height="10.15" fill="#d8d8d8"/>
<rect x="406.1" y="705.15" width="10.14" height="10.15" fill="#090909"/>
<rect x="415.94" y="705.15" width="10.14" height="10.15" fill="#090909"/>
<rect x="425.78" y="705.15" width="10.14" height="10.15" fill="#0f0f0f"/>
<rect x="435.62" y="705.15" width="10.14" height="10.15" fill="#3e3e3e"/>
<rect x="445.46" y="705.15" width="10.14" height="10.15" fill="#818181"/>
<rect x="455.3" y="705.15" width="10.14" height="10.15" fill="#313131"/>
<rect x="465.14" y="705.15" width="10.14" height="10.15" fill="#a2a2a2"/>
<rect x="474.98" y="705.15" width="10.14" height="10.15" fill="#4c4c4c"/>
<rect x="484.82" y="705.15" width="10.14" height="10.15" fill="#d1d1d1"/>
<rect x="494.66" y="705.15" width="10.14" height="10.15" fill="#c4c4c4"/>
<rect x="504.5" y="705.15" width="10.14" height="10.15" fill="#c4c4c4"/>
<rect x="514.34" y="705.15" width="22.14" height="10.15" fill="#bdbdbd"/>
<rect x="406.1" y="715" width="10.14" height="10.15" fill="#090909"/>
<rect x="415.94" y="715" width="10.14" height="10.15" fill="#090909"/>
<rect x="425.78" y="715" width="10.14" height="10.15" fill="#0f0f0f"/>
<rect x="435.62" y="715" width="10.14" height="10.15" fill="#595959"/>
<rect x="445.46" y="715" width="10.14" height="10.15" fill="#6d6d6d"/>
<rect x="455.3" y="715" width="10.14" height="10.15" fill="#4c4c4c"/>
<rect x="465.14" y="715" width="10.14" height="10.15" fill="#d1d1d1"/>
<rect x="474.98" y="715" width="10.14" height="10.15" fill="#606060"/>
<rect x="484.82" y="715" width="10.14" height="10.15" fill="#bdbdbd"/>
<rect x="494.66" y="715" width="10.14" height="10.15" fill="#c4c4c4"/>
<rect x="504.5" y="715" width="10.14" height="10.15" fill="#b0b0b0"/>
<rect x="514.34" y="715" width="22.14" height="10.15" fill="#c4c4c4"/>
<rect x="406.1" y="724.86" width="10.14" height="10.15" fill="#090909"/>
<rect x="415.94" y="724.86" width="10.14" height="10.15" fill="#090909"/>
<rect x="425.78" y="724.86" width="10.14" height="10.15" fill="#090909"/>
<rect x="435.62" y="724.86" width="10.14" height="10.15" fill="#242424"/>
<rect x="445.46" y="724.86" width="10.14" height="10.15" fill="#818181"/>
<rect x="455.3" y="724.86" width="10.14" height="10.15" fill="#606060"/>
<rect x="465.14" y="724.86" width="10.14" height="10.15" fill="#d1d1d1"/>
<rect x="474.98" y="724.86" width="10.14" height="10.15" fill="#e5e5e5"/>
<rect x="484.82" y="724.86" width="10.14" height="10.15" fill="#b0b0b0"/>
<rect x="494.66" y="724.86" width="10.14" height="10.15" fill="#c4c4c4"/>
<rect x="504.5" y="724.86" width="10.14" height="10.15" fill="#c4c4c4"/>
<rect x="514.34" y="724.86" width="22.14" height="10.15" fill="#cacaca"/>
<rect x="406.1" y="734.71" width="10.14" height="10.15" fill="#090909"/>
<rect x="415.94" y="734.71" width="10.14" height="10.15" fill="#090909"/>
<rect x="425.78" y="734.71" width="10.14" height="10.15" fill="#090909"/>
<rect x="435.62" y="734.71" width="10.14" height="10.15" fill="#383838"/>
<rect x="445.46" y="734.71" width="10.14" height="10.15" fill="#4c4c4c"/>
<rect x="455.3" y="734.71" width="10.14" height="10.15" fill="#818181"/>
<rect x="465.14" y="734.71" width="10.14" height="10.15" fill="#818181"/>
<rect x="474.98" y="734.71" width="10.14" height="10.15" fill="#b6b6b6"/>
<rect x="484.82" y="734.71" width="10.14" height="10.15" fill="#a2a2a2"/>
<rect x="494.66" y="734.71" width="10.14" height="10.15" fill="#a9a9a9"/>
<rect x="504.5" y="734.71" width="10.14" height="10.15" fill="#d1d1d1"/>
<rect x="514.34" y="734.71" width="22.14" height="10.15" fill="#bdbdbd"/>
<rect x="425.78" y="744.56" width="10.14" height="10.15" fill="#090909"/>
<rect x="435.62" y="744.56" width="10.14" height="10.15" fill="#1d1d1d"/>
<rect x="445.46" y="744.56" width="10.14" height="10.15" fill="#242424"/>
<rect x="455.3" y="744.56" width="10.14" height="10.15" fill="#383838"/>
<rect x="465.14" y="744.56" width="10.14" height="10.15" fill="#3e3e3e"/>
<rect x="474.98" y="744.56" width="10.14" height="10.15" fill="#4c4c4c"/>
<rect x="484.82" y="744.56" width="10.14" height="10.15" fill="#606060"/>
<rect x="494.66" y="744.56" width="10.14" height="10.15" fill="#666666"/>
<rect x="504.5" y="744.56" width="10.14" height="10.15" fill="#818181"/>
<rect x="514.34" y="744.56" width="22.14" height="10.15" fill="#818181"/>
<rect x="425.78" y="754.41" width="10.14" height="10.15" fill="#050505"/>
<rect x="435.62" y="754.41" width="10.14" height="10.15" fill="#0f0f0f"/>
<rect x="445.46" y="754.41" width="10.14" height="10.15" fill="#0f0f0f"/>
<rect x="455.3" y="754.41" width="10.14" height="10.15" fill="#1d1d1d"/>
<rect x="465.14" y="754.41" width="10.14" height="10.15" fill="#1d1d1d"/>
<rect x="474.98" y="754.41" width="10.14" height="10.15" fill="#2a2a2a"/>
<rect x="484.82" y="754.41" width="10.14" height="10.15" fill="#383838"/>
<rect x="494.66" y="754.41" width="10.14" height="10.15" fill="#3e3e3e"/>
<rect x="504.5" y="754.41" width="10.14" height="10.15" fill="#3e3e3e"/>
<rect x="514.34" y="754.41" width="22.14" height="10.15" fill="#595959"/>
<rect x="465.14" y="764.26" width="10.14" height="10.15" fill="#050505"/>
<rect x="474.98" y="764.26" width="10.14" height="10.15" fill="#050505"/>
<rect x="484.82" y="764.26" width="10.14" height="10.15" fill="#090909"/>
<rect x="494.66" y="764.26" width="10.14" height="10.15" fill="#0c0c0c"/>
<rect x="504.5" y="764.26" width="10.14" height="10.15" fill="#0f0f0f"/>
<rect x="514.34" y="764.26" width="22.14" height="10.15" fill="#1d1d1d"/>
<rect x="504.5" y="774.12" width="10.14" height="10.15" fill="#050505"/>
<rect x="514.34" y="774.12" width="22.14" height="10.15" fill="#090909"/>
</g>
<mask id="mf" maskUnits="userSpaceOnUse" x="380" y="500" width="150" height="300"><use href="#fld"/></mask>
<g mask="url(#mf)" fill="none" stroke-linecap="round">
<g filter="url(#bl15)">
<path d="M472.7 650.97L496.1 687" stroke="#000" stroke-opacity="0.12" stroke-width="2.5"/>
<path d="M460.31 676.79L466.93 687M411.4 589.18L432.08 621.02M502.81 650.33L510.62 662.36M432.17 508L439.82 519.78M521.61 564.89L532.99 582.41" stroke="#000" stroke-opacity="0.12" stroke-width="3"/>
<path d="M383.99 604.84L404.53 636.47M433.03 680.36L437.35 687M428.72 560.28L444.62 584.77M502.85 667.79L515.32 687M428.01 535.15L445.59 562.21M524.5 683.73L526.62 687M461.83 508L484.84 543.43" stroke="#000" stroke-opacity="0.12" stroke-width="3.5"/>
<path d="M395.29 576.67L409.87 599.13M474.57 674.71L482.55 687M421.38 578.72L431.22 593.87M405.67 531.12L431.77 571.31M454.21 605.86L473.12 634.99M515.41 609.3L540.32 647.66M489.47 508L508.81 537.77M515.82 531.06L533.59 558.43M521.59 533.6L539.06 560.5" stroke="#000" stroke-opacity="0.12" stroke-width="4"/>
<path d="M393.85 663.01L402.91 676.97M415.69 540.22L427.22 557.97M417.3 508L430.55 528.4M449.23 545.18L471.45 579.38M471.57 568.66L493.81 602.91M446.06 522.8L471.59 562.12" stroke="#000" stroke-opacity="0.12" stroke-width="4.5"/>
<path d="M498.08 602.91L505.9 614.95M472.34 533.88L496.32 570.8" stroke="#000" stroke-opacity="0.12" stroke-width="5"/>
<path d="M511.55 653.12L533.46 686.87" stroke="#000" stroke-opacity="0.22" stroke-width="2.5"/>
<path d="M394.08 671.45L404.18 687M410.15 652.51L420.39 668.27M432.95 622.37L451.13 650.36M511.1 663.1L521.73 679.47M431.22 529.44L439.17 541.67M453.25 563.36L470.3 589.6M523.39 641.89L537.27 663.26M498.29 573.84L515.98 601.08M519.36 546.18L532.56 566.5" stroke="#000" stroke-opacity="0.22" stroke-width="3"/>
<path d="M405.96 569.06L431.2 607.93M435.92 577.7L452.86 603.79M404.07 522.32L414.67 538.65M433.62 561.18L454.11 592.74M511.83 616.02L523.26 633.62M526.5 565.01L547.33 597.09" stroke="#000" stroke-opacity="0.22" stroke-width="3.5"/>
<path d="M402.88 599.02L418.53 623.13M398.55 569.39L410.98 588.53M398.02 550.59L418.7 582.42M495.23 628L507.68 647.17M479.43 553.91L498.38 583.08M480.1 508L505.62 547.3" stroke="#000" stroke-opacity="0.22" stroke-width="4"/>
<path d="M498.73 668.09L509.76 685.07M436.76 557.62L447.66 574.39M448.73 567.05L471.65 602.35M441.68 508L454.38 527.55M468.2 536.6L477.79 551.37M506.52 569.86L521.77 593.33M528.8 594.77L540.91 613.42M506.11 541.03L519.44 561.55M509.64 539.06L522.94 559.53" stroke="#000" stroke-opacity="0.22" stroke-width="4.5"/>
<path d="M398.52 536.74L416.32 564.14M456.27 596.06L466.54 611.88" stroke="#000" stroke-opacity="0.22" stroke-width="5"/>
<path d="M394.17 550.91L404.72 567.16M483.54 682.27L486.61 687M511.29 508L528.15 533.97" stroke="#000" stroke-opacity="0.36" stroke-width="2.5"/>
<path d="M386.81 581.02L400.21 601.65M402.19 549.16L419.68 576.1M509.27 637.62L531.89 672.46M488.44 580L510.34 613.73M485.65 544.68L500.74 567.92" stroke="#000" stroke-opacity="0.36" stroke-width="3"/>
<path d="M393.94 522.01L415.54 555.27M474.56 606.83L498.64 643.91M459.15 549.54L468.31 563.64M436.44 508L445.44 521.86M510.22 621.6L520.66 637.68M524.49 597.51L541.11 623.11" stroke="#000" stroke-opacity="0.36" stroke-width="3.5"/>
<path d="M401.87 604.21L425.25 640.21M472.22 592.57L493.87 625.91M504.15 573.17L525.78 606.47" stroke="#000" stroke-opacity="0.36" stroke-width="4"/>
<path d="M408.5 662.18L423.21 684.83M452.69 652.76L469.68 678.92M475.04 661.34L491.7 687M471.37 625.96L497.31 665.9M425.09 508L447.56 542.59M504.97 508L517.99 528.05M522.98 508L535.2 526.82" stroke="#000" stroke-opacity="0.36" stroke-width="4.5"/>
<path d="M381.89 591.94L401.57 622.25M468.1 614.28L481.69 635.21" stroke="#000" stroke-opacity="0.36" stroke-width="5"/>
<path d="M433.55 646.26L455.61 680.22" stroke="#fff" stroke-opacity="0.1" stroke-width="2.5"/>
<path d="M518.42 604.84L539.86 637.84" stroke="#fff" stroke-opacity="0.1" stroke-width="3"/>
<path d="M413.54 686.72L413.72 687M402.24 662.29L418.29 687M417.23 557.89L435.63 586.22M475.2 567.68L496.01 599.72M478.16 564.17L487.45 578.48M482.56 532.95L504.77 567.15M472.45 508L488.08 532.07M500.84 508L511.51 524.43" stroke="#fff" stroke-opacity="0.1" stroke-width="3.5"/>
<path d="M420.59 668.58L432.55 687M459.49 622.96L482.12 657.8M498.56 683.12L501.08 687M448.2 590.29L469.67 623.34M410.38 508L424.49 529.73M511.57 630.25L534.6 665.72" stroke="#fff" stroke-opacity="0.1" stroke-width="4"/>
<path d="M395.78 642.6L406.54 659.16M411.67 601.9L435.29 638.28M432.94 596.52L454.25 629.33M486.08 663.9L495.84 678.93M404.54 508L418.9 530.1M466.35 508L478.5 526.7M512.95 570.35L526.22 590.78" stroke="#fff" stroke-opacity="0.1" stroke-width="4.5"/>
<path d="M402.47 623.63L412.38 638.89M394.77 508L403.1 520.83M486.13 633.63L503.85 660.92M508.52 551.77L519.19 568.19" stroke="#fff" stroke-opacity="0.1" stroke-width="5"/>
<path d="M429.47 646.71L444.71 670.17M433.22 611.03L448.74 634.93M529.47 612.16L551.98 646.82" stroke="#fff" stroke-opacity="0.18" stroke-width="2.5"/>
<path d="M398.03 633.84L408.17 649.46M378.67 561.75L401.12 596.31M422.09 628.6L431.72 643.44M455.71 680.37L460.01 687M436.16 609.31L445.93 624.36M498.69 674.35L506.9 687M483.62 638.17L499.35 662.4M495.63 605.71L511.4 630M455.53 508L470.89 531.65" stroke="#fff" stroke-opacity="0.18" stroke-width="3"/>
<path d="M450.28 637.31L470.89 669.04M422.45 588.2L433.61 605.39M465.25 654.11L480.39 677.43M517.46 508L539.75 542.31" stroke="#fff" stroke-opacity="0.18" stroke-width="3.5"/>
<path d="M418.57 640.57L435.79 667.09M375.46 508L400.89 547.16M419.23 568.63L429.82 584.93M431.87 588.1L450.54 616.85M471.7 579.77L496.09 617.32M466.37 546.02L477.31 562.87M449.62 508L467.06 534.85M527.13 508L539.21 526.6" stroke="#fff" stroke-opacity="0.18" stroke-width="4"/>
<path d="M449.17 629.35L462.91 650.5M443.4 525.29L456.03 544.73M492.02 538.13L511.06 567.45" stroke="#fff" stroke-opacity="0.18" stroke-width="4.5"/>
<path d="M455.37 631.05L474.99 661.27M450.97 579.48L462.69 597.53M498.05 620.34L508.58 636.57M484.66 508L505.11 539.48" stroke="#fff" stroke-opacity="0.18" stroke-width="5"/>
<path d="M406.65 682.72L409.43 687M528.31 534.21L544.24 558.73" stroke="#fff" stroke-opacity="0.28" stroke-width="2.5"/>
<path d="M399.78 665.55L413.15 686.14M445.21 670.94L455.64 687M452.42 619.73L471.11 648.52M438.78 591.07L455.25 616.43M499.07 584.14L513.23 605.94M494.57 508L517.07 542.66" stroke="#fff" stroke-opacity="0.28" stroke-width="3"/>
<path d="M406.8 639.96L429.09 674.28M434.45 672.87L443.62 687M438.75 671.64L448.72 687M399.08 508L408.24 522.11M462.94 597.92L482.62 628.23M517.27 681.58L520.79 687M441.26 544.9L452.31 561.9M523.91 634.61L539.16 658.11" stroke="#fff" stroke-opacity="0.28" stroke-width="3.5"/>
<path d="M437.62 641.86L456.57 671.04M472.98 684.01L474.93 687M390.66 508L403.14 527.22M410.7 525.89L433.58 561.12M420.62 532.76L435.06 555M456.42 530.7L465.76 545.07M522.02 572.55L531.47 587.1" stroke="#fff" stroke-opacity="0.28" stroke-width="4"/>
<path d="M413.43 640.52L431 667.57M505.31 663.17L514.5 677.32" stroke="#fff" stroke-opacity="0.28" stroke-width="4.5"/>
<path d="M394.24 603.11L414.58 634.43M476.28 639.85L497.86 673.07" stroke="#fff" stroke-opacity="0.28" stroke-width="5"/>
</g>
<g filter="url(#bl05)">
<path d="M475.33 677.88L493.99 706.62" stroke="#000" stroke-opacity="0.2" stroke-width="1"/>
<path d="M452.44 737.14L463.92 754.81M440.87 706.39L448.19 717.65M452.85 718.57L462.04 732.73M456.44 716.58L470.14 737.68M437.8 681.79L459.71 715.53M478.49 744.44L494.1 768.48M497.44 760.07L513.79 785.25M499.5 758.36L515.1 782.39M460.41 680.63L469.49 694.62M470.9 696.79L484.19 717.25M501.63 744.1L516.49 766.99M464.33 680.4L478.93 702.88M481.9 701.31L490.36 714.34M512.5 748.43L525.61 768.62M522.23 706.18L529.94 718.05M514.42 677.52L523.29 691.18M523.39 691.34L543 721.53" stroke="#000" stroke-opacity="0.2" stroke-width="1.5"/>
<path d="M494.34 768.85L506.83 788.09M483.07 745.03L505.14 779.01M518.1 787.01L526.54 800M469.53 700.77L476.56 711.59M488.17 729.47L502.97 752.25M504.8 755.07L527.29 789.7M486.33 720.54L501.15 743.37M513.88 744.53L522.34 757.56M506.92 682.6L519.46 701.91M522.66 684.39L531.12 697.41" stroke="#000" stroke-opacity="0.2" stroke-width="2"/>
<path d="M450.26 720.84L470.35 751.78M493.58 787.55L501.66 800M460.99 711.03L469.26 723.76" stroke="#000" stroke-opacity="0.38" stroke-width="1"/>
<path d="M417.96 684.04L426.45 697.1M466.24 758.37L482.5 783.42M418.08 678.02L437.27 707.58M453.72 732.91L466.52 752.62M473.7 756.94L482.46 770.43M493.01 772.89L503.08 788.4M504.16 790.06L510.61 800M458.88 695.81L466.04 706.83M523.76 790.54L529.9 800M468.12 680.09L479.58 697.74M480.75 679.79L489.76 693.67M511.17 714.03L533.63 748.62" stroke="#000" stroke-opacity="0.38" stroke-width="1.5"/>
<path d="M482.62 783.6L493.27 800M467.77 754.54L489.42 787.89M490.19 789.08L497.29 800M484.39 773.4L491.27 784M465.34 737.81L478.37 757.88M481.19 762.22L491.84 778.62M473.46 742.79L490.09 768.4M471.25 719.74L479.77 732.86M508.43 748.3L524.24 772.65M499.75 677.59L507.48 689.49M510.66 694.4L529.98 724.14M523.48 680.31L542.3 709.29" stroke="#000" stroke-opacity="0.38" stroke-width="2"/>
<path d="M434.36 690.11L452.42 717.91M465.75 701.21L476.83 718.28M515.04 777.12L522.75 788.98M495.61 716.4L513.34 743.71M523.56 759.44L545.72 793.57M517.1 742.2L531.03 763.66M487.9 684.33L497.05 698.42M489.12 680.08L501.43 699.04M525.44 677.81L543.5 705.62M528.81 677.1L536.78 689.36" stroke="#000" stroke-opacity="0.55" stroke-width="1.5"/>
<path d="M430.25 702.96L451.2 735.23M509.76 792.59L514.57 800M448.33 684.44L468.86 716.05M477.82 719.8L487.56 734.8M482.41 708.23L493.84 725.83M494.66 727.09L506.56 745.43M493.25 718.8L509.42 743.69M494.63 707.6L514.61 738.38M500.32 703.47L519.93 733.67M501.97 699.87L508.99 710.68" stroke="#000" stroke-opacity="0.55" stroke-width="2"/>
<path d="M435.63 713.93L456.27 745.7M431.82 682.38L440.41 695.6M508.15 779.81L521.25 800M500.52 739.37L518.7 767.37M527.43 754.83L546.27 783.84" stroke="#fff" stroke-opacity="0.15" stroke-width="1"/>
<path d="M458.56 743.23L478.96 774.63M481.81 779.02L495.43 800M458.48 723.42L468.03 738.13M480.01 756.58L502.7 791.52M502.89 791.81L508.21 800M507.6 785.44L517.06 800M463.38 705.22L481.95 733.82M450.31 680.07L458.48 692.66M467.77 706.96L489.04 739.71M454.62 681.13L463.08 694.15M473.78 704.89L496.48 739.86M519.15 768.07L539.06 798.73M479.98 701.59L495.14 724.94M497.23 728.15L515.42 756.16M469.43 679.37L492.3 714.59M518.3 754.61L540.1 788.18M512.11 731.24L525.41 751.71M523.57 730.17L534.56 747.09M496.24 681.36L512.25 706.02M515.14 710.46L537.33 744.64M517.65 679.44L537.92 710.66M529.04 680.41L539.43 696.4" stroke="#fff" stroke-opacity="0.15" stroke-width="1.5"/>
<path d="M471.46 737.16L480.97 751.82" stroke="#fff" stroke-opacity="0.15" stroke-width="2"/>
<path d="M484.04 788.46L491.53 800M416.36 678.23L426.24 693.45M420.79 679.16L441.26 710.68M467.31 750.8L483.42 775.6M492.67 762.45L505.17 781.69M497.94 716.21L519.95 750.11" stroke="#fff" stroke-opacity="0.3" stroke-width="1"/>
<path d="M442.44 712.49L463.84 745.44M485.21 778.36L492.32 789.31M447.8 713.9L459.78 732.36M437.2 684.42L448.15 701.28M450.32 704.62L460.58 720.41M437.73 677.85L459.79 711.82M478.09 740L489.91 758.2M466.82 716.18L486.63 746.69M504.67 763.78L518.24 784.68M481.08 721.87L491.22 737.48M508.42 758.23L530.61 792.4M520.54 751.02L534.14 771.95M478.8 679.94L492.05 700.34M518.76 698.37L527.91 712.47M529.17 714.41L550.3 746.95M523.06 682.6L531.38 695.41" stroke="#fff" stroke-opacity="0.3" stroke-width="1.5"/>
<path d="M468.08 738.22L479.05 755.1" stroke="#fff" stroke-opacity="0.3" stroke-width="2"/>
<path d="M457.05 746.9L468.1 763.92M500 794.28L503.71 800M462.42 723.24L471.43 737.12M493.65 741.23L507.39 762.39M527.6 793.51L531.82 800M467.55 682.44L479.54 700.9M475.53 681.7L497.13 714.97M492.22 700.61L510.46 728.7M517.63 733.21L538.7 765.65M491.68 681.08L499.5 693.12M514.09 703.01L524.42 718.92" stroke="#fff" stroke-opacity="0.45" stroke-width="1"/>
<path d="M414.88 681.98L433.83 711.16M471.72 769.49L482.54 786.16M493.56 791.21L499.27 800M472.55 752.02L482.23 766.92M482.84 767.86L498.59 792.11M482.82 754.65L496.03 775M496.15 775.19L503.63 786.7M443.72 680.61L465.98 714.89M446.82 679.72L462.13 703.3M458.62 692.87L467.08 705.89M489.31 740.13L501.02 758.16M463.55 694.88L477.52 716.39M511.03 767.99L527.55 793.42M486.69 678.96L500.63 700.42M519.16 728.94L541.21 762.91M508.44 682.48L515.24 692.96M510.1 679.19L526.75 704.82M528.15 706.99L537.41 721.24M515.68 682.76L527.89 701.56M525.07 679.65L536.06 696.58" stroke="#fff" stroke-opacity="0.45" stroke-width="1.5"/>
<path d="M428.46 684.12L447.5 713.44M476.12 701.82L498.51 736.29M515.54 756.35L530.68 779.67M483.11 680.05L505.18 714.04" stroke="#fff" stroke-opacity="0.45" stroke-width="2"/>
</g>
</g>
<g fill="none" stroke-linecap="butt" stroke-linejoin="round" filter="url(#bl05)">
<path d="M352.6 506L353.4 525L354.3 543" stroke="#2d2d2d" stroke-width="8.1"/>
<path d="M354.3 543L356 553" stroke="#090909" stroke-width="7.7"/>
<path d="M356.6 555L357.2 561" stroke="#202020" stroke-width="9.3"/>
<path d="M357.6 565L359.6 575L362.2 596L364 615" stroke="#1a1a1a" stroke-width="7.9"/>
<path d="M364 615L366 638" stroke="#060606" stroke-width="7.7"/>
<path d="M371.8 506L372.7 524L373.6 541" stroke="#282828" stroke-width="7.9"/>
<path d="M373.6 541L376.2 563" stroke="#1d1d1d" stroke-width="7.9"/>
<path d="M376.2 563L378.8 584L381.5 603" stroke="#252525" stroke-width="7.9"/>
<path d="M381.5 603L384 628" stroke="#1b1b1b" stroke-width="7.8"/>
<path d="M384 628L385.8 643L388 660" stroke="#0f0f0f" stroke-width="7.7"/>
<path d="M388 660L390 676" stroke="#060606" stroke-width="7.5"/>
<path d="M393.7 506L394.6 524L395.5 541L397.2 559" stroke="#2c2c2c" stroke-width="8.1"/>
<path d="M397.2 559L399 575" stroke="#191919" stroke-width="8.5"/>
<path d="M399 575L400.7 592.6" stroke="#242424" stroke-width="8.1"/>
<path d="M400.7 592.6L403.4 613.6" stroke="#1a1a1a" stroke-width="7.9"/>
<path d="M403.4 613.6L406.9 638L411 660" stroke="#111111" stroke-width="7.8"/>
<path d="M411 660L414 676" stroke="#070707" stroke-width="7.5"/>
<path d="M352.6 506L353.4 525L354.3 543" stroke="#828282" stroke-width="4.8"/>
<path d="M354.3 543L356 553" stroke="#202020" stroke-width="4.4"/>
<path d="M356.6 555L357.2 561" stroke="#5e5e5e" stroke-width="6"/>
<path d="M357.6 565L359.6 575L362.2 596L364 615" stroke="#4f4f4f" stroke-width="4.6"/>
<path d="M364 615L366 638" stroke="#191919" stroke-width="4.4"/>
<path d="M371.8 506L372.7 524L373.6 541" stroke="#747474" stroke-width="4.6"/>
<path d="M373.6 541L376.2 563" stroke="#565656" stroke-width="4.6"/>
<path d="M376.2 563L378.8 584L381.5 603" stroke="#6c6c6c" stroke-width="4.6"/>
<path d="M381.5 603L384 628" stroke="#535353" stroke-width="4.5"/>
<path d="M384 628L385.8 643L388 660" stroke="#323232" stroke-width="4.4"/>
<path d="M388 660L390 676" stroke="#151515" stroke-width="4.2"/>
<path d="M393.7 506L394.6 524L395.5 541L397.2 559" stroke="#7f7f7f" stroke-width="4.8"/>
<path d="M397.2 559L399 575" stroke="#4c4c4c" stroke-width="5.2"/>
<path d="M399 575L400.7 592.6" stroke="#696969" stroke-width="4.8"/>
<path d="M400.7 592.6L403.4 613.6" stroke="#4f4f4f" stroke-width="4.6"/>
<path d="M403.4 613.6L406.9 638L411 660" stroke="#363636" stroke-width="4.5"/>
<path d="M411 660L414 676" stroke="#1c1c1c" stroke-width="4.2"/>
<path d="M352.6 506L353.4 525L354.3 543" stroke="#dcdcdc" stroke-width="2.6"/>
<path d="M354.3 543L356 553" stroke="#383838" stroke-width="2.2"/>
<path d="M356.6 555L357.2 561" stroke="#9f9f9f" stroke-width="3.8"/>
<path d="M357.6 565L359.6 575L362.2 596L364 615" stroke="#878787" stroke-width="2.4"/>
<path d="M364 615L366 638" stroke="#2c2c2c" stroke-width="2.2"/>
<path d="M371.8 506L372.7 524L373.6 541" stroke="#c4c4c4" stroke-width="2.4"/>
<path d="M373.6 541L376.2 563" stroke="#939393" stroke-width="2.4"/>
<path d="M376.2 563L378.8 584L381.5 603" stroke="#b8b8b8" stroke-width="2.4"/>
<path d="M381.5 603L384 628" stroke="#8d8d8d" stroke-width="2.3"/>
<path d="M384 628L385.8 643L388 660" stroke="#565656" stroke-width="2.2"/>
<path d="M388 660L390 676" stroke="#262626" stroke-width="2"/>
<path d="M393.7 506L394.6 524L395.5 541L397.2 559" stroke="#d6d6d6" stroke-width="2.6"/>
<path d="M397.2 559L399 575" stroke="#818181" stroke-width="3"/>
<path d="M399 575L400.7 592.6" stroke="#b2b2b2" stroke-width="2.6"/>
<path d="M400.7 592.6L403.4 613.6" stroke="#878787" stroke-width="2.4"/>
<path d="M403.4 613.6L406.9 638L411 660" stroke="#5d5d5d" stroke-width="2.3"/>
<path d="M411 660L414 676" stroke="#323232" stroke-width="2"/>
<path d="M310.5 556L314.9 584L317.5 610L321 632" stroke="#262626" stroke-width="1.8"/>
<path d="M301.5 506L303 526" stroke="#1a1a1a" stroke-width="3"/>
<path d="M332 509L334.5 530" stroke="#1a1a1a" stroke-width="3.5"/>
<path d="M337 560L339 580" stroke="#111111" stroke-width="2.5"/>
<path d="M377 715L382.3 720.6" stroke="#727272" stroke-width="2.4"/>
<path d="M392.9 687L395.5 703" stroke="#4a4a4a" stroke-width="2.4"/>
<path d="M413.9 690.8L416.5 701" stroke="#4a4a4a" stroke-width="2.4"/>
<path d="M373.6 687L377 692.6" stroke="#2b2b2b" stroke-width="2.4"/>
<path d="M394.6 729L399.9 736" stroke="#3b3b3b" stroke-width="2.4"/>
<path d="M383 700L386 712" stroke="#2b2b2b" stroke-width="2.4"/>
<path d="M403 705L407 716" stroke="#333333" stroke-width="2.4"/>
<path d="M365 735L369 742" stroke="#1b1b1b" stroke-width="2.4"/>
<path d="M352 742L356 748" stroke="#171717" stroke-width="2.4"/>
<path d="M341 730L344 735" stroke="#131313" stroke-width="2.4"/>
<path d="M398 745L402 752" stroke="#232323" stroke-width="2.4"/>
<path d="M388 668L390 680" stroke="#2b2b2b" stroke-width="2.4"/>
<path d="M414 722L418 732" stroke="#2b2b2b" stroke-width="2.4"/>
<path d="M420 738L424 747" stroke="#232323" stroke-width="2.4"/>
<path d="M459.67 736.42L466.16 746.41" stroke="#777777" stroke-width="2.16"/>
<path d="M452.85 732.67L460.71 744.77" stroke="#5e5e5e" stroke-width="2.33"/>
<path d="M409.61 652.07L414.41 659.45" stroke="#1f1f1f" stroke-width="1.87"/>
<path d="M478.31 749.23L486.03 761.11" stroke="#7b7b7b" stroke-width="1.81"/>
<path d="M490.49 762.27L495.64 770.2" stroke="#313131" stroke-width="2.38"/>
<path d="M419.86 638.92L427.94 651.35" stroke="#8b8b8b" stroke-width="1.9"/>
<path d="M420.58 679.66L424.42 685.57" stroke="#575757" stroke-width="2.18"/>
<path d="M448.04 720.28L451.66 725.87" stroke="#444444" stroke-width="1.75"/>
<path d="M436.41 710.37L442.37 719.56" stroke="#555555" stroke-width="1.75"/>
<path d="M439.21 710.43L443.65 717.28" stroke="#515151" stroke-width="2.19"/>
<path d="M406.25 647.9L414.14 660.05" stroke="#232323" stroke-width="1.98"/>
<path d="M469.41 746.02L475.29 755.07" stroke="#393939" stroke-width="1.73"/>
<path d="M416.18 685.38L419.55 690.57" stroke="#1e1e1e" stroke-width="2.27"/>
<path d="M447.73 719.62L453.31 728.22" stroke="#737373" stroke-width="1.78"/>
<path d="M489.6 757.86L493.93 764.53" stroke="#585858" stroke-width="2.38"/>
<path d="M418.34 670.39L426.06 682.28" stroke="#3e3e3e" stroke-width="2.35"/>
<path d="M451.49 738.79L455.88 745.55" stroke="#4f4f4f" stroke-width="2.14"/>
<path d="M476.04 764.39L479.65 769.94" stroke="#151515" stroke-width="2.39"/>
<path d="M477.84 744.04L484.59 754.45" stroke="#6d6d6d" stroke-width="1.88"/>
<path d="M486.71 748.66L494.42 760.54" stroke="#4e4e4e" stroke-width="2.05"/>
<path d="M486.43 766.37L492.23 775.3" stroke="#191919" stroke-width="2.33"/>
<path d="M444.37 717.3L447.9 722.75" stroke="#6f6f6f" stroke-width="1.91"/>
<path d="M450.53 735.53L454.17 741.15" stroke="#474747" stroke-width="2.37"/>
<path d="M486.44 758.62L490.75 765.26" stroke="#4d4d4d" stroke-width="1.8"/>
<path d="M451 732.54L454.71 738.23" stroke="#696969" stroke-width="2.31"/>
<path d="M423.19 660.26L430.18 671.01" stroke="#848484" stroke-width="1.95"/>
<path d="M512.49 762.46L518.42 771.58" stroke="#3c3c3c" stroke-width="1.91"/>
<path d="M469.8 744.08L475.17 752.34" stroke="#7b7b7b" stroke-width="2.18"/>
<path d="M444.22 712.95L447.92 718.64" stroke="#7a7a7a" stroke-width="2.03"/>
<path d="M493.7 763.67L498.94 771.75" stroke="#515151" stroke-width="2.15"/>
<path d="M504.2 760.39L508.8 767.49" stroke="#898989" stroke-width="1.99"/>
<path d="M488.11 765.44L493.28 773.41" stroke="#292929" stroke-width="1.93"/>
<path d="M428.6 671.21L435.88 682.42" stroke="#969696" stroke-width="2.03"/>
<path d="M469.4 754.31L474.39 762" stroke="#474747" stroke-width="2.36"/>
<path d="M466.04 744.35L472.16 753.77" stroke="#6b6b6b" stroke-width="2.15"/>
<path d="M496.41 756.72L502.32 765.83" stroke="#787878" stroke-width="1.83"/>
<path d="M506.07 767.17L509.03 771.72" stroke="#434343" stroke-width="1.86"/>
<path d="M424.64 652.86L432.64 665.17" stroke="#747474" stroke-width="2.08"/>
<path d="M448.45 721.95L454.51 731.28" stroke="#636363" stroke-width="1.87"/>
<path d="M429.31 689.33L433.55 695.86" stroke="#535353" stroke-width="1.78"/>
<path d="M494.96 767.95L500.68 776.75" stroke="#1f1f1f" stroke-width="1.91"/>
<path d="M456.18 739.13L464.13 751.36" stroke="#5c5c5c" stroke-width="1.99"/>
<path d="M503.76 763.78L509.03 771.89" stroke="#383838" stroke-width="1.97"/>
<path d="M443.08 738.15L449.12 747.45" stroke="#212121" stroke-width="2.33"/>
<path d="M418.61 644.18L426.32 656.06" stroke="#646464" stroke-width="1.93"/>
<path d="M461.7 741.21L465.65 747.3" stroke="#494949" stroke-width="2.38"/>
<path d="M439.6 727.35L443.19 732.87" stroke="#343434" stroke-width="2.22"/>
<path d="M435.94 701.66L440.4 708.53" stroke="#7b7b7b" stroke-width="2.04"/>
<path d="M437.59 687.17L443.91 696.9" stroke="#aaaaaa" stroke-width="1.87"/>
<path d="M413.05 662.17L415.85 666.48" stroke="#343434" stroke-width="1.89"/>
<path d="M455.78 728.27L459.96 734.71" stroke="#4c4c4c" stroke-width="2.39"/>
<path d="M424.26 706.96L429.81 715.5" stroke="#2e2e2e" stroke-width="2.32"/>
<path d="M422.71 636.64L426.98 643.2" stroke="#878787" stroke-width="2.13"/>
<path d="M482.54 756.37L487.23 763.59" stroke="#656565" stroke-width="2.11"/>
<path d="M413.36 639.27L419.82 649.21" stroke="#343434" stroke-width="2.18"/>
<path d="M413.85 665.12L418.9 672.9" stroke="#3a3a3a" stroke-width="2.2"/>
<path d="M476.04 759.69L483.34 770.94" stroke="#2f2f2f" stroke-width="2.18"/>
<path d="M477.82 749.59L485.06 760.75" stroke="#424242" stroke-width="2.29"/>
<path d="M484.48 758.68L490.73 768.31" stroke="#484848" stroke-width="1.92"/>
<path d="M421.77 675.34L427.2 683.71" stroke="#424242" stroke-width="1.81"/>
<path d="M470.66 737.76L477.37 748.1" stroke="#656565" stroke-width="1.76"/>
<path d="M426.03 647.95L432.69 658.2" stroke="#acacac" stroke-width="2.4"/>
<path d="M488.87 753.3L492.26 758.52" stroke="#7e7e7e" stroke-width="2.28"/>
<path d="M425.31 652L429.62 658.65" stroke="#989898" stroke-width="1.8"/>
<path d="M451.59 742.63L454.68 747.39" stroke="#282828" stroke-width="2.09"/>
<path d="M487.88 752.05L490.92 756.73" stroke="#808080" stroke-width="2.22"/>
<path d="M457.11 736.73L461.55 743.56" stroke="#5e5e5e" stroke-width="2.04"/>
<path d="M486.35 749.15L492.87 759.19" stroke="#595959" stroke-width="2.14"/>
<path d="M449.48 743.9L455.2 752.71" stroke="#1e1e1e" stroke-width="1.74"/>
<path d="M416.05 671.16L421.59 679.69" stroke="#282828" stroke-width="1.86"/>
<path d="M373.07 699.02L374.84 703.58" stroke="#252525" stroke-width="2.79"/>
<path d="M412.32 651.12L414.48 656.65" stroke="#282828" stroke-width="2.23"/>
<path d="M400.7 572.74L402.4 577.11" stroke="#2d2d2d" stroke-width="2.81"/>
<path d="M360.48 581.53L364.33 591.41" stroke="#232323" stroke-width="2.94"/>
<path d="M361.88 622.92L364.79 630.39" stroke="#181818" stroke-width="2.55"/>
<path d="M353.94 714.38L357.35 723.13" stroke="#1b1b1b" stroke-width="2.97"/>
<path d="M383.96 671.04L386.77 678.24" stroke="#262626" stroke-width="2.56"/>
<path d="M403.04 561.83L405.58 568.34" stroke="#2b2b2b" stroke-width="2.76"/>
<path d="M377.65 649.12L379.22 653.14" stroke="#111111" stroke-width="2.34"/>
<path d="M372.42 631.72L376.03 640.98" stroke="#101010" stroke-width="2.43"/>
<path d="M365.61 592.24L367.67 597.52" stroke="#131313" stroke-width="2.63"/>
<path d="M416.63 688.29L419.69 696.16" stroke="#1c1c1c" stroke-width="3.05"/>
<path d="M396.74 697.7L398.48 702.15" stroke="#121212" stroke-width="2.22"/>
<path d="M361.8 576.44L364.15 582.49" stroke="#2e2e2e" stroke-width="2.53"/>
<path d="M368.3 648.96L370.35 654.21" stroke="#252525" stroke-width="2.85"/>
<path d="M355.86 604.67L359.62 614.33" stroke="#222222" stroke-width="2.59"/>
<path d="M420.35 564.28L421.82 568.04" stroke="#272727" stroke-width="2.57"/>
<path d="M347.17 663.04L349.84 669.88" stroke="#181818" stroke-width="2.28"/>
<path d="M417.02 572.45L418.96 577.44" stroke="#0d0d0d" stroke-width="2.56"/>
<path d="M368.16 572.69L369.57 576.3" stroke="#2e2e2e" stroke-width="2.36"/>
<path d="M383.33 635.98L386.02 642.9" stroke="#0e0e0e" stroke-width="2.48"/>
<path d="M351.99 661.57L354.86 668.94" stroke="#2a2a2a" stroke-width="2.39"/>
<path d="M388.1 630.9L391.04 638.45" stroke="#252525" stroke-width="3.02"/>
<path d="M367.26 643.62L370.73 652.52" stroke="#131313" stroke-width="2.3"/>
</g>
</g></g>
<rect x="307.7" y="685.44" width="19.68" height="19.7" fill="#f47d20"/>
<rect x="327.38" y="685.44" width="19.68" height="19.7" fill="#f47d20"/>
<rect x="288.02" y="705.15" width="19.68" height="19.7" fill="#f47d20"/>
<rect x="327.38" y="705.15" width="19.68" height="19.7" fill="#f47d20"/>
<rect x="288.02" y="724.86" width="19.68" height="19.7" fill="#f47d20"/>
<rect x="307.7" y="724.86" width="19.68" height="19.7" fill="#f47d20"/>
<rect x="307.7" y="705.15" width="19.68" height="19.7" fill="#fdf3e8"/>
<path d="M130.58 508.1V921.9M150.26 508.1V921.9M169.94 508.1V921.9M189.62 508.1V921.9M209.3 508.1V921.9M228.98 508.1V921.9M248.66 508.1V921.9M268.34 508.1V921.9M288.02 508.1V921.9M307.7 508.1V921.9M327.38 508.1V921.9M347.06 508.1V921.9M366.74 508.1V921.9M386.42 508.1V921.9M406.1 508.1V921.9M425.78 508.1V921.9M445.46 508.1V921.9M465.14 508.1V921.9M484.82 508.1V921.9M504.5 508.1V921.9M110.9 527.81H524.18M110.9 547.51H524.18M110.9 567.22H524.18M110.9 586.92H524.18M110.9 606.62H524.18M110.9 626.33H524.18M110.9 646.04H524.18M110.9 665.74H524.18M110.9 685.44H524.18M110.9 705.15H524.18M110.9 724.86H524.18M110.9 744.56H524.18M110.9 764.26H524.18M110.9 783.97H524.18M110.9 803.67H524.18M110.9 823.38H524.18M110.9 843.09H524.18M110.9 862.79H524.18M110.9 882.5H524.18M110.9 902.2H524.18" stroke="#fdf3e8" stroke-width="2.9" fill="none"/>
<path d="M317.6 715.2L331 702" stroke="#000" stroke-width="2.9" fill="none"/>
<path d="M337.3 695.6L320 702.8L327.8 705.6L330.2 712.9Z" fill="#000"/>
<rect x="110.9" y="508.1" width="413.28" height="413.8" fill="none" stroke="#000" stroke-width="1.3"/>
<path d="M110.9 921.9v5.6M110.9 508.1h-5.6M193.56 921.9v5.6M110.9 590.86h-5.6M276.21 921.9v5.6M110.9 673.62h-5.6M358.87 921.9v5.6M110.9 756.38h-5.6M441.52 921.9v5.6M110.9 839.14h-5.6M524.18 921.9v5.6M110.9 921.9h-5.6" stroke="#000" stroke-width="1.3" fill="none"/>
<text font-family="'Liberation Sans', Arial, Helvetica, sans-serif" font-size="25.4" fill="#000" x="42.99 52.13 68.22 84.31" y="517.4">-716</text>
<text font-family="'Liberation Sans', Arial, Helvetica, sans-serif" font-size="25.4" fill="#000" x="26.9 36.04 52.13 68.22 84.31" y="932.2">-1356</text>
<text font-family="'Liberation Sans', Arial, Helvetica, sans-serif" font-size="25.4" fill="#000" x="74.55 83.69 99.78 115.87 131.96" y="952.7">-1471</text>
<text font-family="'Liberation Sans', Arial, Helvetica, sans-serif" font-size="25.4" fill="#000" x="495.7 504.83 520.92 537.01" y="952.7">-831</text>
<text font-family="'Liberation Sans', Arial, Helvetica, sans-serif" font-size="24.3" fill="#000"><tspan x="262.1" y="959.6">V</tspan><tspan x="279.4" y="963.9" font-size="17">B</tspan><tspan x="290.9" y="963.9" font-size="17">1</tspan><tspan x="310.8" y="959.6">(</tspan><tspan x="320.6" y="959.6">m</tspan><tspan x="345.6" y="959.6">V</tspan><tspan x="362.5" y="959.6">)</tspan></text>
<g transform="translate(82.8 770.3) rotate(-90)">
<text font-family="'Liberation Sans', Arial, Helvetica, sans-serif" font-size="24.3" fill="#000"><tspan x="-0.2" y="0">V</tspan><tspan x="17.1" y="4.3" font-size="17">B</tspan><tspan x="28.6" y="4.3" font-size="17">2</tspan><tspan x="48.5" y="0">(</tspan><tspan x="58.3" y="0">m</tspan><tspan x="83.3" y="0">V</tspan><tspan x="100.2" y="0">)</tspan></text>
</g>
<rect x="535.4" y="508" width="21.5" height="414.5" fill="url(#cbB)" stroke="#000" stroke-width="1.2"/>
<text font-family="'Liberation Sans', Arial, Helvetica, sans-serif" font-size="25.4" fill="#000" x="567.1 583.19 591.24" y="544.3">0.4</text>
<text font-family="'Liberation Sans', Arial, Helvetica, sans-serif" font-size="25.4" fill="#000" x="567.1 583.19 591.24" y="643">0.3</text>
<text font-family="'Liberation Sans', Arial, Helvetica, sans-serif" font-size="25.4" fill="#000" x="567.1 583.19 591.24" y="741.7">0.2</text>
<text font-family="'Liberation Sans', Arial, Helvetica, sans-serif" font-size="25.4" fill="#000" x="567.1 583.19 591.24" y="840.4">0.1</text>
<path d="M556.9 535.2h5.2M556.9 633.9h5.2M556.9 732.6h5.2M556.9 831.3h5.2" stroke="#000" stroke-width="1.3" fill="none"/>
<text font-family="'Liberation Sans', Arial, Helvetica, sans-serif" font-size="24" fill="#000" x="541.8 549.26 557.31 567.18 583.22 600.52" y="502.6">I (nA)</text>
<text font-family="'Liberation Sans', Arial, Helvetica, sans-serif" font-size="25.5" fill="#000" font-weight="bold"><tspan x="-0.5" y="490.6">b</tspan></text>
</g>
</svg></body></html>
